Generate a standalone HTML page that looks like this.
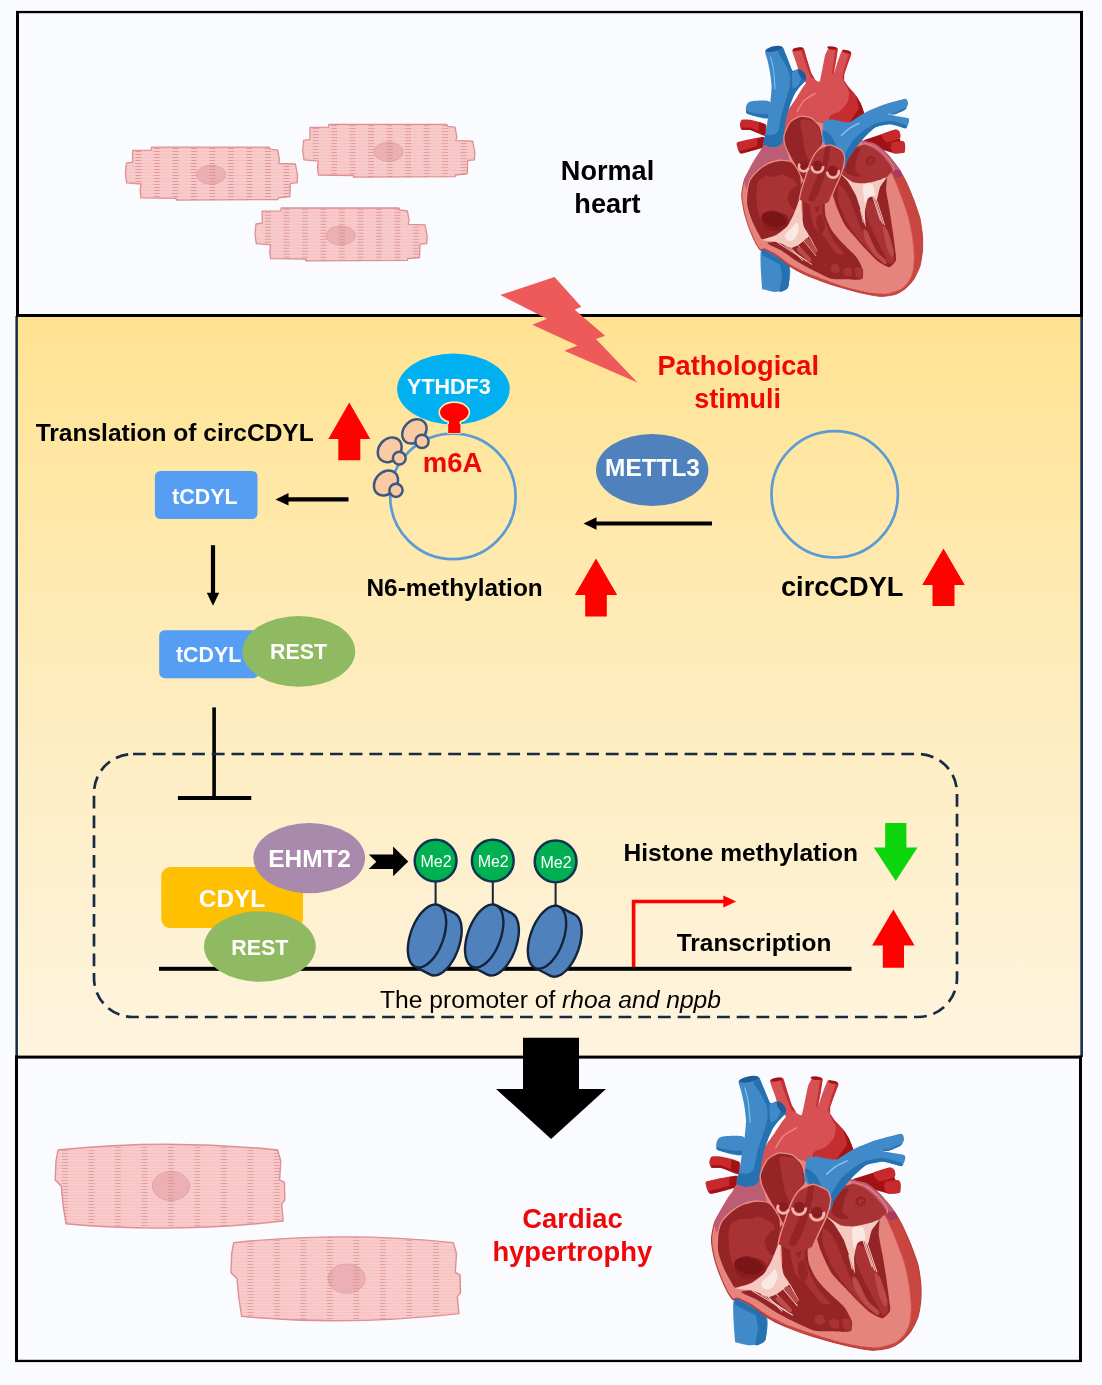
<!DOCTYPE html>
<html lang="en"><head><meta charset="utf-8"><title>circCDYL in cardiac hypertrophy</title>
<style>
html,body{margin:0;padding:0;background:#f9fbfe;}
body{width:1102px;height:1385px;overflow:hidden;font-family:"Liberation Sans",sans-serif;}
svg{display:block;will-change:transform;opacity:0.999}
text{font-family:"Liberation Sans",sans-serif;}
.b{font-weight:bold}
</style></head><body>
<svg width="1102" height="1385" viewBox="0 0 1102 1385">
<defs>
<linearGradient id="gy" x1="0" y1="0" x2="0" y2="1"><stop offset="0" stop-color="#ffe392"/><stop offset="0.5" stop-color="#feecbd"/><stop offset="1" stop-color="#fef4df"/></linearGradient>
<pattern id="stri" width="18.5" height="3" patternUnits="userSpaceOnUse"><rect x="0" y="1.2" width="18.5" height="0.6" fill="#e9a3a6" opacity="0.38"/><rect x="6" y="1.0" width="5.8" height="0.95" fill="#d5858a" opacity="0.72"/></pattern>
<pattern id="striB" width="26.5" height="3" patternUnits="userSpaceOnUse"><rect x="0" y="1.2" width="26.5" height="0.6" fill="#e9a3a6" opacity="0.38"/><rect x="9" y="1.0" width="5.8" height="0.95" fill="#d5858a" opacity="0.6"/></pattern>
</defs>
<rect width="1102" height="1385" fill="#f9fbfe"/>
<g id="panels">
<rect x="16" y="316" width="1066" height="741" fill="url(#gy)"/>
<rect x="15.4" y="316" width="2.5" height="741" fill="#172b45"/>
<rect x="1080.3" y="316" width="2.7" height="741" fill="#1d3452"/>
<rect x="16" y="10.9" width="1067" height="2.3" fill="#000"/>
<rect x="16" y="11" width="3" height="306" fill="#000"/>
<rect x="1080" y="11" width="3" height="306" fill="#000"/>
<rect x="16" y="314" width="1067" height="3" fill="#000"/>
<rect x="15" y="1055.6" width="1067" height="3" fill="#000"/>
<rect x="15" y="1055.6" width="3" height="306.4" fill="#000"/>
<rect x="1079" y="1055.6" width="3" height="306.4" fill="#000"/>
<rect x="15" y="1359.8" width="1067" height="2.3" fill="#000"/>
</g>
<g id="cells-normal">
<g>
<path d="M132.6 150.4 L151.1 150.1 L151.6 147.2 L269.4 147.2 L270.2 149.2 L277.8 150.1 L279.5 160.1 L278.6 163.5 L295.4 164 L297.6 175.3 L297.1 182.8 L290.4 183.3 L289.9 196.7 L278.1 197.9 L277.8 199.6 L176.2 200.1 L176.2 198.4 L141 197.9 L140.1 190.4 L141 184 L126.7 182.8 L125.4 173.6 L126.4 163.2 L132.6 162.2 Z" fill="#f8caca" stroke="#dc9093" stroke-width="1.3" stroke-linejoin="round"/>
<ellipse cx="211.2" cy="174.7" rx="14.6" ry="9.6" fill="#ebb0b3" stroke="#e0a0a5" stroke-width="0.9"/>
<path d="M132.6 150.4 L151.1 150.1 L151.6 147.2 L269.4 147.2 L270.2 149.2 L277.8 150.1 L279.5 160.1 L278.6 163.5 L295.4 164 L297.6 175.3 L297.1 182.8 L290.4 183.3 L289.9 196.7 L278.1 197.9 L277.8 199.6 L176.2 200.1 L176.2 198.4 L141 197.9 L140.1 190.4 L141 184 L126.7 182.8 L125.4 173.6 L126.4 163.2 L132.6 162.2 Z" fill="url(#stri)" transform="translate(0 0)"/>
</g>
<g>
<path d="M309.9 127.5 L328.4 127.2 L328.9 124.3 L446.7 124.3 L447.5 126.3 L455.1 127.2 L456.8 137.2 L455.9 140.6 L472.7 141.1 L474.9 152.4 L474.4 159.9 L467.7 160.4 L467.2 173.8 L455.4 175 L455.1 176.7 L353.5 177.2 L353.5 175.5 L318.3 175 L317.4 167.5 L318.3 161.1 L304 159.9 L302.7 150.7 L303.7 140.3 L309.9 139.3 Z" fill="#f8caca" stroke="#dc9093" stroke-width="1.3" stroke-linejoin="round"/>
<ellipse cx="388.5" cy="151.8" rx="14.6" ry="9.6" fill="#ebb0b3" stroke="#e0a0a5" stroke-width="0.9"/>
<path d="M132.6 150.4 L151.1 150.1 L151.6 147.2 L269.4 147.2 L270.2 149.2 L277.8 150.1 L279.5 160.1 L278.6 163.5 L295.4 164 L297.6 175.3 L297.1 182.8 L290.4 183.3 L289.9 196.7 L278.1 197.9 L277.8 199.6 L176.2 200.1 L176.2 198.4 L141 197.9 L140.1 190.4 L141 184 L126.7 182.8 L125.4 173.6 L126.4 163.2 L132.6 162.2 Z" fill="url(#stri)" transform="translate(177.3 -22.9)"/>
</g>
<g>
<path d="M262.2 211.2 L280.7 210.9 L281.2 208 L399 208 L399.8 210 L407.4 210.9 L409.1 220.9 L408.2 224.3 L425 224.8 L427.2 236.1 L426.7 243.6 L420 244.1 L419.5 257.5 L407.7 258.7 L407.4 260.4 L305.8 260.9 L305.8 259.2 L270.6 258.7 L269.7 251.2 L270.6 244.8 L256.3 243.6 L255 234.4 L256 224 L262.2 223 Z" fill="#f8caca" stroke="#dc9093" stroke-width="1.3" stroke-linejoin="round"/>
<ellipse cx="340.8" cy="235.5" rx="14.6" ry="9.6" fill="#ebb0b3" stroke="#e0a0a5" stroke-width="0.9"/>
<path d="M132.6 150.4 L151.1 150.1 L151.6 147.2 L269.4 147.2 L270.2 149.2 L277.8 150.1 L279.5 160.1 L278.6 163.5 L295.4 164 L297.6 175.3 L297.1 182.8 L290.4 183.3 L289.9 196.7 L278.1 197.9 L277.8 199.6 L176.2 200.1 L176.2 198.4 L141 197.9 L140.1 190.4 L141 184 L126.7 182.8 L125.4 173.6 L126.4 163.2 L132.6 162.2 Z" fill="url(#stri)" transform="translate(129.6 60.8)"/>
</g>
</g>
<g id="cells-hypertrophy">
<g>
<path d="M58 1150 Q167.8 1138.5 277.6 1150 L280.8 1161.1 L279.6 1179.9 L284.4 1182.3 L284.8 1199.9 L281.6 1204.3 L283.2 1221 Q171.8 1233.7 66 1223.8 L63.2 1205.9 L61.2 1185.9 L55.2 1179.9 L56 1161.1 Z" fill="#f8caca" stroke="#dc9093" stroke-width="1.4" stroke-linejoin="round"/>
<ellipse cx="171" cy="1186" rx="18.6" ry="14.6" fill="#ebb0b3" stroke="#e0a0a5" stroke-width="0.9"/>
<path d="M58 1150 Q167.8 1138.5 277.6 1150 L280.8 1161.1 L279.6 1179.9 L284.4 1182.3 L284.8 1199.9 L281.6 1204.3 L283.2 1221 Q171.8 1233.7 66 1223.8 L63.2 1205.9 L61.2 1185.9 L55.2 1179.9 L56 1161.1 Z" fill="url(#striB)"/>
</g>
<g>
<path d="M233.7 1242.6 Q343.5 1231.1 453.3 1242.6 L456.5 1253.7 L455.3 1272.5 L460.1 1274.9 L460.5 1292.5 L457.3 1296.9 L458.9 1313.6 Q347.5 1326.3 241.7 1316.4 L238.9 1298.5 L236.9 1278.5 L230.9 1272.5 L231.7 1253.7 Z" fill="#f8caca" stroke="#dc9093" stroke-width="1.4" stroke-linejoin="round"/>
<ellipse cx="346.7" cy="1278.6" rx="18.6" ry="14.6" fill="#ebb0b3" stroke="#e0a0a5" stroke-width="0.9"/>
<path d="M233.7 1242.6 Q343.5 1231.1 453.3 1242.6 L456.5 1253.7 L455.3 1272.5 L460.1 1274.9 L460.5 1292.5 L457.3 1296.9 L458.9 1313.6 Q347.5 1326.3 241.7 1316.4 L238.9 1298.5 L236.9 1278.5 L230.9 1272.5 L231.7 1253.7 Z" fill="url(#striB)"/>
</g>
</g>
<g transform="translate(0 0)">
<path d="M761.9 247.8 C758.8 250.4 761.7 281.4 761.9 286.2 C762.2 291.1 763 288.9 764.5 289.6 C765.9 290.2 772.2 291.8 774.6 291.9 C776.9 292 783 291.1 784.7 290.3 C786.3 289.5 788.3 288.3 788.7 285.2 C789.2 282.2 791.9 268.4 788.7 264 C785.6 259.6 765.1 245.2 761.9 247.8 Z" fill="#418ac9"/>
<path d="M779.6 259 C780.6 257.5 787.5 261.5 788.7 265 C789.9 268.5 789.3 281.9 788.7 285.2 C788.2 288.6 785.9 289.5 784.7 290.3 C783.5 291.1 780 293.2 779.6 291.3 C779.3 289.4 781.9 280.4 781.9 276.1 C781.9 271.8 778.7 260.4 779.6 259 Z" fill="#2671b0"/>
<path d="M761.9 248.8 L788.7 264 L788.7 269.1 L761.9 254.9 Z" fill="#2671b0"/>
<path d="M741.7 119.8 C742.8 119.2 747.9 119.3 750.3 119.8 C752.7 120.2 764.2 122.9 765.7 124.5 C767.2 126.1 766.7 135.3 765.2 135.8 C763.6 136.4 752.7 130.7 750.3 130.1 C748 129.5 742.8 130.2 741.7 129.7 C740.7 129.2 739.9 126 739.9 125 C739.9 124 740.7 120.3 741.7 119.8 Z" fill="#c8292d"/>
<path d="M758.9 122.2 L765.7 124.5 L765.2 135.8 L758.4 133.1 Z" fill="#a01216"/>
<path d="M741.7 127.5 L750.3 127.8 L758.4 131.1 L758.4 133.1 L750.3 130.1 L741.7 129.7 Z" fill="#a01216"/>
<path d="M738.2 142 C740.9 141.1 761.2 136.6 763.7 137.1 C766.2 137.7 765.4 145.6 763.2 147.3 C761 148.9 744.2 153.2 741.7 153.6 C739.3 154 739.2 152 738.7 151.3 C738.2 150.6 737.1 147.2 737.1 146.2 C737 145.3 735.5 142.9 738.2 142 Z" fill="#c8292d"/>
<path d="M757.4 138.3 L763.7 137.1 L763.2 147.3 L756.9 149.3 Z" fill="#a01216"/>
<path d="M739.2 151.3 L756.9 146.2 L756.9 149.3 L741.7 153.6 Z" fill="#a01216"/>
<path d="M770 102 C768.1 99.7 756.3 100.8 753.4 101 C750.4 101.1 748.8 102 747.8 103 C746.8 104 745.8 106.9 745.9 108.3 C745.9 109.8 745.1 112.8 748.1 114.1 C751.1 115.4 765.1 119.9 768 118.2 C770.9 116.6 772 104.3 770 102 Z" fill="#418ac9"/>
<path d="M746.5 110.9 C746.1 111.1 745.2 113.1 748.1 114.1 C751 115.1 765.3 118.2 768 118.2 C770.7 118.3 769.3 115 768.3 114.4 C767.3 113.9 762.7 114.4 760.4 114.1 C758.2 113.8 753.2 112.8 751.3 112.4 C749.5 112 746.9 110.6 746.5 110.9 Z" fill="#2671b0"/>
<path d="M863.4 140.2 L895.7 129.6 L900.8 141.2 L904.8 144.2 L904.3 152.8 L894.7 153.5 L880.5 149.3 Z" fill="#a01216"/>
<path d="M881.6 134.6 C882.5 133.4 893.9 129.8 895.7 129.6 C897.5 129.3 899.3 131 899.7 131.9 C900.2 132.7 901.3 137.1 899.9 138.2 C898.6 139.2 888.4 142.6 886.6 142.2 C884.8 141.8 880.6 135.9 881.6 134.6 Z" fill="#c8292d"/>
<path d="M891.7 142.7 C892.8 141.9 901.4 140.9 902.8 141 C904.1 141.1 904.8 142.9 905 144 C905.2 145.2 905.5 151.4 904.5 152.3 C903.5 153.3 896 153.8 894.7 153.5 C893.4 153.2 891.5 150.4 891.2 149.3 C890.9 148.2 890.5 143.5 891.7 142.7 Z" fill="#c8292d"/>
<path d="M779.6 143.2 C775.5 143.2 780.2 129.3 780.6 127 C781.1 124.8 783.9 117.5 784.7 115.9 C785.5 114.3 788.7 109.4 789.7 107.8 C790.8 106.2 795.9 98.6 797 96.9 C798.1 95.2 802.3 88.3 803.1 87.1 C803.8 85.9 806.1 83.6 805.9 82.8 C805.7 82 801.6 79 800.9 77.5 C800.1 76 797.5 66.6 796.8 64.4 C796.1 62.1 792.2 52.1 792.3 50.7 C792.4 49.3 796.9 47.9 797.8 47.7 C798.8 47.5 802.9 47.4 803.7 48.4 C804.5 49.4 806.3 57.3 806.9 59.3 C807.5 61.3 810.3 70.8 811 72.5 C811.6 74.1 814.3 78.8 815 79.5 C815.7 80.3 819 82.3 819.6 81.6 C820.2 80.8 821.6 72.6 822.1 70.4 C822.6 68.2 824.6 57.2 825.1 55.3 C825.7 53.4 828.2 48.4 829 47.7 C829.7 47 833.3 46.6 834 46.7 C834.8 46.8 837.5 47.6 837.7 48.7 C837.9 49.8 836.4 58.2 836.1 60.3 C835.7 62.5 833.5 74.2 833.5 74.5 C833.6 74.7 836.4 65.4 837.1 63.4 C837.8 61.3 841.3 51.3 842.1 50.2 C842.9 49.2 845.9 50.5 846.7 50.7 C847.5 51 851.4 52.2 851.4 53.5 C851.5 54.7 847.8 63.6 847.2 65.4 C846.6 67.1 844.4 73.2 844.2 74.5 C843.9 75.7 843.8 79.5 844.2 80.5 C844.5 81.6 847.3 85.4 848.2 86.6 C849.1 87.8 854.3 93.3 855.3 94.7 C856.3 96 859.7 101.4 860.3 102.8 C861 104.1 863 109.8 863.4 110.9 C863.7 112 864.7 114.8 864.1 115.9 C863.4 117 858.1 123.1 855.3 124 C852.4 124.9 836.3 125.4 830 127 C823.7 128.6 783.8 143.2 779.6 143.2 Z" fill="#d75054"/>
<path d="M830 115.9 C831 114.3 838.4 112.2 840.1 110.9 C841.8 109.6 846.3 104.6 847.2 102.8 C848.1 101 849.4 94.5 849.2 92.7 C849 90.9 845.7 85.8 845.2 84.6 C844.7 83.4 843.8 80.3 844.2 80.5 C844.5 80.7 847.1 85.2 848.2 86.6 C849.3 88 854.1 93.1 855.3 94.7 C856.5 96.3 859.5 101.2 860.3 102.8 C861.1 104.4 863 109.6 863.4 110.9 C863.7 112.2 864.9 114.6 864.1 115.9 C863.3 117.2 858.7 122.9 855.3 124 C851.9 125.1 832.5 127.8 830 127 C827.5 126.2 829 117.5 830 115.9 Z" fill="#c62d31"/>
<path d="M855.8 95.7 C855.9 95.2 859.6 101.3 860.3 102.8 C861.1 104.3 863 109.6 863.4 110.9 C863.7 112.2 865.4 114.8 864.1 115.9 C862.8 117.1 851.2 122.5 850.2 122.5 C849.2 122.5 852.9 117.4 853.8 115.9 C854.6 114.5 858.6 109.9 858.8 107.8 C859 105.8 855.6 96.2 855.8 95.7 Z" fill="#a21318"/>
<path d="M800.9 49.2 L803.7 48.4 L806.9 59.3 L811 72.5 L815 79.5 L811 77.5 L805.9 64.4 Z" fill="#c62d31"/>
<path d="M835.6 48.7 L837.7 48.7 L836.1 60.3 L833.5 74.5 L832 73.5 L834 60.3 Z" fill="#c62d31"/>
<path d="M849.2 52.7 L851.4 53.5 L847.2 65.4 L844.2 74.5 L844.2 80.5 L842.1 77.5 L845.2 65.4 Z" fill="#c62d31"/>
<ellipse cx="797.9" cy="49.2" rx="5.4" ry="1.7" fill="#a21318" transform="rotate(-10 797.9 49.2)"/>
<ellipse cx="832.2" cy="48" rx="5.0" ry="1.6" fill="#a21318" transform="rotate(8 832.2 48)"/>
<ellipse cx="846.8" cy="51.7" rx="4.4" ry="1.5" fill="#a21318" transform="rotate(14 846.8 51.7)"/>
<path d="M797.3 111.4 C798.4 109.6 800.9 103.8 803.9 100.8 C806.9 97.7 813.6 94.4 815.5 93.2" fill="none" stroke="#f08a88" stroke-width="1.2" stroke-linejoin="round" stroke-linecap="round"/>
<path d="M765.2 50.7 C764.6 52 767 58.2 767.5 60.3 C768 62.5 769.6 69.8 770 72.5 C770.4 75.1 771.5 83.8 771.6 86.6 C771.6 89.4 770.8 98 770.5 100.8 C770.2 103.5 769 110.9 768.5 113.9 C768.1 116.9 766.5 127.9 766 131.1 C765.5 134.2 763 143.6 763.5 145.2 C763.9 146.9 769 147.3 770.5 147.5 C772.1 147.6 777.4 147 778.6 146.4 C779.9 145.9 782.3 144.1 782.9 142.2 C783.5 140.3 784.3 129.7 784.7 127 C785.1 124.4 786.1 118.3 786.7 115.9 C787.3 113.5 789.9 105 790.8 102.8 C791.6 100.6 793.9 95.3 794.8 93.7 C795.7 92.1 798.7 88 799.9 86.6 C801 85.2 805.4 81 805.9 79.7 C806.4 78.4 805.5 74.5 804.7 73.5 C803.9 72.4 799.5 69.5 798.3 69.2 C797.1 69 793.6 71.4 792.8 70.9 C791.9 70.5 790.5 66 789.7 64.4 C789 62.7 786.5 56 785.7 54.3 C784.9 52.5 783.4 47.4 782.2 46.7 C781 46 775.5 46.8 773.8 47.2 C772.1 47.6 765.8 49.4 765.2 50.7 Z" fill="#418ac9"/>
<path d="M778.1 51.7 C777.9 50.1 781.6 46.7 782.4 47 C783.1 47.2 785 52.5 785.7 54.3 C786.4 56 789 62.7 789.7 64.4 C790.5 66 791.9 70.5 792.8 70.9 C793.6 71.4 797.1 69 798.3 69.2 C799.5 69.5 803.9 72.4 804.7 73.5 C805.5 74.5 806.4 78.4 805.9 79.7 C805.4 81 801 85.2 799.9 86.6 C798.7 88 795.7 92.1 794.8 93.7 C793.9 95.3 791.6 100.6 790.8 102.8 C789.9 105 787.3 113.5 786.7 115.9 C786.1 118.3 785.1 124.4 784.7 127 C784.3 129.7 783.5 140.3 782.9 142.2 C782.3 144.1 779.9 145.9 778.6 146.4 C777.4 147 772.1 147.6 770.5 147.5 C769 147.3 764 146.4 763.5 145.2 C762.9 144.1 764.4 136.6 765.3 135.6 C766.2 134.6 771.3 135.6 772.6 135.1 C773.8 134.7 777.2 133.2 778.1 131.1 C779 129 780.9 116.9 781.7 113.9 C782.4 110.9 784.9 103.5 785.7 100.8 C786.5 98 789.3 89.2 789.7 86.6 C790.2 84 790.3 76.8 789.7 74.5 C789.2 72.2 785.9 65.6 784.7 63.4 C783.5 61.1 778.4 53.4 778.1 51.7 Z" fill="#2671b0"/>
<path d="M792 73 C792.5 71.1 797.4 69.2 798.3 69.6 C799.3 70 801.5 75.5 801.5 77 C801.5 78.5 799.2 84 798.3 85.1 C797.5 86.2 793.6 89.3 793 88.1 C792.3 86.9 791.4 74.8 792 73 Z" fill="#418ac9"/>
<ellipse cx="773.8" cy="48.9" rx="8.4" ry="2.6" fill="#1f5c97" transform="rotate(-13 773.8 48.9)"/>
<ellipse cx="802.1" cy="74.5" rx="2.7" ry="6.0" fill="#1f5c97" transform="rotate(-33 802.1 74.5)"/>
<path d="M770.5 56.8 C771 59.1 772.8 65.1 773.6 70.4 C774.3 75.7 774.8 85.6 775.1 88.6" fill="none" stroke="#86c4ea" stroke-width="1.0" stroke-linejoin="round" stroke-linecap="round"/>
<path d="M784.7 148.3 C780 151.1 767.1 148.7 764.5 149.3 C761.8 149.9 759.5 153 758.4 154.3 C757.3 155.6 754.3 160.8 753.4 162.4 C752.4 164 750.2 168.2 749.3 170 C748.4 171.8 745 177.6 744.3 180.1 C743.5 182.6 741.7 192 741.7 195.3 C741.7 198.5 743.5 209.1 744.3 212.5 C745 215.8 748.2 225.6 749.3 228.6 C750.4 231.7 754.3 240.6 755.4 242.8 C756.5 244.9 759.4 249.4 760.2 250.1 C761 250.7 761.8 248.5 763.5 249 C765.1 249.6 773.9 254.1 776.6 255.9 C779.3 257.7 787.8 265.1 790.8 267 C793.7 269 802 273.4 805.9 275.1 C809.8 276.8 824.6 282.5 830 284.2 C835.4 286 855.3 291.6 860.3 292.8 C865.4 294 877 296.2 880.5 296.4 C884.1 296.5 893.2 295.1 895.7 294.3 C898.2 293.5 904 289.8 905.8 288.3 C907.6 286.7 912.5 281.4 913.9 279.2 C915.3 276.9 919.1 268.9 920 266 C920.8 263.2 922.2 253.9 922.5 250.9 C922.7 247.8 922.7 238.9 922.5 235.7 C922.2 232.5 920.8 222.1 920 218.5 C919.1 215 915.2 203.9 913.9 200.3 C912.6 196.8 908.2 186.2 906.8 183.1 C905.4 180.1 900.9 171.9 899.7 170 C898.6 168.1 897 166.1 895.7 164.4 C894.4 162.8 888.6 155.3 886.6 153.3 C884.6 151.3 877.8 145.4 875.5 144.2 C873.2 143 866.9 142.5 863.4 141.2 C859.8 139.9 845.3 133.1 840.1 131.1 C834.9 129.1 816.5 119.3 811 121 C805.4 122.7 789.3 145.4 784.7 148.3 Z" fill="#c9453f" stroke="#b83a36" stroke-width="0.9" stroke-linejoin="round" stroke-linecap="round"/>
<path d="M784.7 148.3 C780 151.1 767.1 148.7 764.5 149.3 C761.8 149.9 759.5 153 758.4 154.3 C757.3 155.6 754.2 160.8 753.4 162.4 C752.5 164 750.5 168.2 749.6 170 C748.8 171.8 745.5 177.6 744.8 180.1 C744 182.6 742.3 192 742.3 195.3 C742.3 198.5 744.1 209.1 744.9 212.5 C745.6 215.8 748.8 225.6 749.9 228.6 C751 231.6 754.9 240.5 756 242.6 C757 244.6 759.6 248.5 760.4 249 C761.3 249.6 762.9 247.8 764.5 248.3 C766.1 248.9 774 252.8 776.6 254.4 C779.2 256.1 787.8 263 790.8 264.8 C793.7 266.6 802 270.9 805.9 272.6 C809.8 274.3 825.6 280.1 830 281.7 C834.4 283.3 846.2 287.2 850.2 288.3 C854.3 289.4 866.8 292.3 870.4 292.8 C874.1 293.4 883.6 294.2 886.6 293.8 C889.6 293.5 898.5 290.5 900.8 289.3 C903 288 907.6 283 908.8 281.2 C910.1 279.4 912.4 273.6 912.9 271.1 C913.4 268.6 914.2 259.5 914.1 255.9 C914 252.4 912.7 239.7 912.1 235.7 C911.5 231.7 909 219.5 907.8 215.5 C906.7 211.4 902.1 198.8 900.8 195.3 C899.4 191.7 895.6 182.2 894.7 180.1 C893.8 178 892.5 175.1 891.7 174 C890.9 173 888.2 172.8 886.6 170 C885 167.2 877.8 149 875.5 146.2 C873.2 143.5 866.9 143.7 863.4 142.2 C859.8 140.7 845.3 133.2 840.1 131.1 C834.9 129 816.5 119.3 811 121 C805.4 122.7 789.3 145.4 784.7 148.3 Z" fill="#e5847c"/>
<path d="M894.7 180.1 C895.7 182.6 898.6 189.4 900.8 195.3 C902.9 201.2 905.9 208.7 907.8 215.5 C909.7 222.2 911 229 912.1 235.7 C913.1 242.4 914 250 914.1 255.9 C914.2 261.8 913.8 266.9 912.9 271.1 C912 275.3 910.9 278.2 908.8 281.2 C906.8 284.2 904.5 287.2 900.8 289.3 C897.1 291.4 889 293.1 886.6 293.8" fill="none" stroke="#d8635c" stroke-width="0.6" stroke-linejoin="round" stroke-linecap="round"/>
<path d="M763.5 145.2 C764.7 144.5 769 147.2 770.5 147.3 C772.1 147.4 777.4 146.8 778.6 146.2 C779.9 145.7 782.1 142.3 782.9 142 C783.6 141.7 785.5 142.3 785.9 143.2 C786.3 144.1 786.8 149.6 787.2 151.3 C787.6 153 789.1 158.9 789.7 160.4 C790.4 161.9 794.7 166.5 793.8 166.5 C792.9 166.4 783.2 160 780.6 159.6 C778.1 159.2 770.7 161.6 768.5 162.6 C766.3 163.6 760.2 167.9 758.4 169.5 C756.6 171.1 751.5 176.6 750.3 178.6 C749.1 180.6 747.1 189.1 746.5 189.2 C745.9 189.4 744 182 744.3 180.1 C744.5 178.2 748.4 171.8 749.3 170 C750.2 168.2 752.4 164 753.4 162.4 C754.3 160.8 757.4 156 758.4 154.3 C759.4 152.6 762.3 145.9 763.5 145.2 Z" fill="#bd5d74"/>
<path d="M863.4 141 C864.6 140.9 873.2 142.8 875.5 144 C877.8 145.2 884.6 151.1 886.6 153.1 C888.6 155.1 894.4 162.5 895.7 164.2 C897 165.9 899.1 168.8 899.7 170 C900.4 171.2 902.7 175.3 902.3 176.1 C901.8 176.8 896.2 178.2 895.2 177.6 C894.2 177 893 171.3 892.5 170 C891.9 168.7 890.6 165.9 889.6 164.4 C888.6 163 884.1 157.4 882.6 155.8 C881 154.3 876.4 150.2 874.5 149.1 C872.6 148 864.5 145.5 863.4 144.7 C862.2 143.9 862.1 141.1 863.4 141 Z" fill="#bd5d74"/>
<path d="M892.9 170.5 C893.3 169.7 898.6 169.4 899.5 170 C900.5 170.6 902.7 175.3 902.3 176.1 C901.8 176.8 896.1 178.1 895.2 177.6 C894.3 177 892.4 171.3 892.9 170.5 Z" fill="#a83a62"/>
<path d="M863.9 143 C865.7 143.6 871.5 144.8 875 146.7 C878.4 148.7 881.7 151.5 884.6 154.5 C887.5 157.6 890.9 162.2 892.5 164.9 C894 167.7 893.6 170 893.9 171" fill="none" stroke="#ea8a84" stroke-width="0.9" stroke-linejoin="round" stroke-linecap="round"/>
<path d="M791.3 161.9 C789.3 160.7 782.9 160.2 780.6 160.4 C778.4 160.5 770.7 162.5 768.5 163.4 C766.3 164.4 760.7 168.2 758.9 169.8 C757.1 171.4 751.7 177.1 750.5 179.1 C749.4 181.1 747.7 187.6 747.3 190.2 C746.9 192.8 746.4 202.3 746.8 205.4 C747.2 208.4 750.2 217.6 751.3 220.5 C752.5 223.5 757.3 232.8 758.4 234.7 C759.5 236.6 760.6 239.9 762.5 239.9 C764.3 240 774.2 236.5 776.6 235.2 C779 233.9 785 229.1 786.7 227.1 C788.4 225.1 792.5 217.9 793.8 215 C795.1 212 799.1 200.8 799.9 197.8 C800.6 194.8 801.4 187.7 801.4 185.2 C801.4 182.6 800.9 174.3 799.9 172 C798.8 169.7 793.2 163.1 791.3 161.9 Z" fill="#952426" stroke="#ea8a84" stroke-width="1.1" stroke-linejoin="round" stroke-linecap="round"/>
<path d="M758.4 181.1 C759.8 179.1 765.7 176.3 768.5 175.6 C771.3 174.8 779.6 173.9 782.7 174.5 C785.7 175.2 793 178.7 794.8 181.1 C796.6 183.5 798.6 191.5 798.3 195.3 C798.1 199 794.4 210 792.8 213.5 C791.2 216.9 787.1 222.5 784.7 224.6 C782.3 226.7 775 231.7 772.6 231.7 C770.1 231.7 765.2 227.2 763.5 224.6 C761.7 222 758.4 213.1 757.6 209.4 C756.8 205.8 756.3 196.6 756.4 193.2 C756.5 189.9 757 183.2 758.4 181.1 Z" fill="#a83234"/>
<path d="M762.5 214.5 C763.9 212.9 769.3 210.3 772.6 210.4 C775.8 210.6 784.6 213.6 786.7 215.5 C788.9 217.4 789.5 222.6 788.7 224.6 C787.9 226.6 783.5 229.8 780.6 230.6 C777.8 231.5 770 231.7 767.5 230.6 C765 229.6 762.6 224.7 761.9 222.6 C761.3 220.4 761 216.1 762.5 214.5 Z" fill="#8b1d20"/>
<ellipse cx="773.8" cy="219.3" rx="12.4" ry="7.4" fill="#7a1417" transform="rotate(14 773.8 219.3)"/>
<path d="M792.8 188.2 C794.4 186.8 798.9 184.9 799.9 186.2 C800.8 187.5 800.5 194.7 799.9 197.8 C799.2 200.9 796.7 208.5 795.3 209.4 C794 210.3 790.8 206.1 789.7 204.4 C788.7 202.6 787.3 198.4 787.7 196.3 C788.1 194.1 791.2 189.5 792.8 188.2 Z" fill="#952426"/>
<path d="M774.6 170 C776.9 169.3 784.4 170.2 784.7 171 C785 171.8 778.9 175.4 776.6 176.1 C774.3 176.7 767.8 176.9 767.5 176.1 C767.2 175.3 772.3 170.7 774.6 170 Z" fill="#952426"/>
<path d="M800.9 185.2 C800.2 188 801.9 197 802.1 200.3 C802.2 203.7 803.5 214.7 802.4 218.5 C801.2 222.4 794.2 236.3 790.8 238.7 C787.3 241.2 768.5 241.8 767.5 243 C766.5 244.1 777.7 248.2 780.6 250.1 C783.6 251.9 793.8 259.3 796.8 261.2 C799.9 263.1 807.7 267.5 811 269.3 C814.3 271 826.8 277.4 830 278.4 C833.2 279.4 840.6 279 843.1 279.2 C845.7 279.3 853.3 279.7 855.3 279.7 C857.2 279.6 861.6 279.7 862.3 278.7 C863.1 277.7 863.5 271.7 862.9 269.6 C862.2 267.4 858.4 259.6 856.3 256.9 C854.2 254.3 844.6 245.4 842.1 242.8 C839.7 240.2 833.6 233.2 832 230.6 C830.4 228.1 826.7 220.2 826 217.5 C825.2 214.8 824.4 206.3 824.9 203.4 C825.5 200.4 829.9 191.1 831 188.2 C832.1 185.3 835.4 176.3 836.1 174 C836.8 171.8 838.5 166.7 838.1 165.4 C837.7 164.2 834.1 161.6 832 161.4 C829.9 161.3 819.3 162.9 817 163.9 C814.7 165 810.6 169.9 809 172 C807.3 174.1 801.6 182.3 800.9 185.2 Z" fill="#952426"/>
<path d="M809 190.2 C809.8 187.5 815.4 184.6 817 185.2 C818.7 185.8 822.5 192.1 823.1 195.3 C823.7 198.5 821.6 208.8 822.1 212.5 C822.6 216.1 825.8 223.3 827.1 226.6 C828.5 229.9 832.1 237.6 834 240.8 C836 243.9 843.9 252.5 844.2 253.9 C844.4 255.3 838.4 254.9 836.1 252.9 C833.7 250.9 826.5 239.8 823.9 236.7 C821.4 233.6 815.6 229.9 814 226.6 C812.4 223.3 810.6 212.7 810 208.4 C809.4 204.2 808.1 192.9 809 190.2 Z" fill="#a83234"/>
<path d="M814 193.2 C814.8 191.5 818.6 189.3 819.6 190.2 C820.5 191.2 821.4 197.4 821.1 200.3 C820.7 203.3 818 212 817 212.5 C816 212.9 813.9 205.9 813.5 203.4 C813.1 200.8 813.2 195 814 193.2 Z" fill="#952426"/>
<path d="M816.5 217.5 C817.1 215.9 819.9 213.3 821.1 214.5 C822.2 215.7 825.1 223.9 825.1 226.6 C825.1 229.3 822.2 234.7 821.1 234.7 C820 234.7 817.6 228.9 817 226.6 C816.4 224.3 816 219.1 816.5 217.5 Z" fill="#952426"/>
<path d="M843.1 270.1 C843.5 269 846.5 267.6 847.7 267.5 C848.8 267.5 851.2 268.4 851.7 269.6 C852.3 270.7 852.6 275.3 851.7 276.1 C850.9 276.9 846.3 276.4 845.2 275.6 C844 274.8 842.8 271.1 843.1 270.1 Z" fill="#a83234"/>
<path d="M854.8 268.6 C855.3 267.3 859.3 267.2 860.3 267.5 C861.4 267.9 862.3 269.7 862.5 271.1 C862.8 272.4 863 276.8 862.1 277.7 C861.3 278.5 857.5 278.4 856.5 277.1 C855.5 275.9 854.3 269.8 854.8 268.6 Z" fill="#a83234"/>
<path d="M832 265 C832.8 264.1 836 263.3 837.1 264 C838.2 264.7 840.2 268.9 840.1 270.1 C840 271.3 837.3 273 836.1 273.1 C834.9 273.2 831.5 272.2 831 271.1 C830.5 270 831.2 266 832 265 Z" fill="#a83234"/>
<path d="M762.5 239.9 C762.5 239.3 774.2 236.5 776.6 235.2 C779 233.9 785 229.1 786.7 227.1 C788.4 225.1 792.5 217.9 793.8 215 C795.1 212 799.1 199.8 799.9 197.8 C800.6 195.8 801.5 194 801.7 195.3 C801.8 196.5 801.2 207.3 801.5 210.4 C801.7 213.6 803.1 224.1 803.9 226.6 C804.6 229.1 809 234.3 809 235.7 C809 237.1 805 239.8 803.9 240.8 C802.8 241.7 799.1 244.6 797.8 245.3 C796.5 246 792.1 248 790.8 248 C789.4 248 786.1 245.9 784.7 245.3 C783.3 244.7 778.8 242.5 776.6 242 C774.4 241.4 762.5 240.6 762.5 239.9 Z" fill="#f3c9c1"/>
<path d="M784.7 235.7 C785.2 233.8 791.2 228.4 792.8 226.6 C794.4 224.9 796 222.2 796.8 222.6 C797.6 223 799.1 227.5 798.8 229.6 C798.6 231.8 796.1 237.3 794.8 238.7 C793.5 240.2 790.1 241.2 788.7 240.8 C787.4 240.4 784.2 237.6 784.7 235.7 Z" fill="#fbe8e3"/>
<line x1="790.8" y1="248" x2="802.9" y2="261" stroke="#f3c9c1" stroke-width="0.9"/>
<line x1="797.8" y1="245.3" x2="809" y2="257.9" stroke="#f3c9c1" stroke-width="0.9"/>
<line x1="803.9" y1="240.8" x2="816" y2="255.9" stroke="#f3c9c1" stroke-width="0.9"/>
<line x1="809" y1="235.7" x2="817" y2="250.9" stroke="#f3c9c1" stroke-width="0.9"/>
<line x1="776.6" y1="242" x2="812" y2="264.5" stroke="#f3c9c1" stroke-width="0.9"/>
<line x1="784.7" y1="245.3" x2="806.9" y2="261" stroke="#f3c9c1" stroke-width="0.9"/>
<path d="M796.8 249.9 C796 248.4 799.5 246.9 800.9 247.8 C802.3 248.7 810.2 257.5 811 259 C811.8 260.4 810.4 262.9 809 262 C807.5 261.1 797.6 251.3 796.8 249.9 Z" fill="#bb4a48"/>
<path d="M804.9 239.7 C804.4 238.3 807.7 237.6 809 238.7 C810.2 239.8 816.5 249.5 817 250.9 C817.5 252.3 815.2 254 814 252.9 C812.8 251.8 805.4 241.2 804.9 239.7 Z" fill="#bb4a48"/>
<path d="M845.2 161.4 C846.5 159.7 848.4 151.4 850.2 149.8 C852 148.1 860.9 144.8 863.4 144.7 C865.8 144.6 872.6 147.7 874.5 148.8 C876.4 149.9 881 154.3 882.6 155.8 C884.1 157.4 888.6 163.2 889.6 164.6 C890.6 166.1 892.8 168.7 892.5 170 C892.2 171.3 888 176.2 886.6 177.3 C885.2 178.3 880.6 179.7 878.5 180.3 C876.4 180.9 867.9 183.1 865.4 183.3 C862.9 183.5 855.8 183.3 853.2 182.3 C850.7 181.3 841.7 174.8 840.1 173.2 C838.5 171.7 836.6 168.2 837.1 167 C837.6 165.8 843.8 163.1 845.2 161.4 Z" fill="#a83234"/>
<circle cx="870.6" cy="160.6" r="4.6" fill="#952426"/>
<circle cx="871.2" cy="161" r="2.6" fill="#a83234"/>
<circle cx="872.2" cy="161.8" r="1.3" fill="#952426"/>
<path d="M851.7 151.3 C853.8 148.5 859.7 147.7 860.3 148.8 C860.9 149.8 857 156.6 856.3 159.4 C855.6 162.2 854.7 167.8 855.3 170 C855.8 172.2 860.6 175.3 860.3 176.1 C860.1 176.9 855.3 176.9 853.2 176.1 C851.2 175.3 845.4 173.3 845.2 170 C845 166.7 849.7 154.1 851.7 151.3 Z" fill="#952426"/>
<path d="M840.1 173.2 C842.1 173.7 850.7 181.3 853.2 182.3 C855.8 183.3 862.9 183.5 865.4 183.3 C867.9 183.1 876.4 180.9 878.5 180.3 C880.6 179.7 885.8 176.3 886.6 177.3 C887.4 178.3 885.8 186.9 886.1 190.2 C886.4 193.5 889 206.4 889.6 210.4 C890.3 214.5 892.1 226.3 892.7 230.6 C893.3 235 895.4 250.9 895.7 253.9 C896 256.9 896.4 259.6 895.7 261 C895 262.3 891 267.2 889.1 267.2 C887.3 267.2 879.9 262.8 877.5 261 C875.1 259.1 867.4 251 865.4 248.8 C863.4 246.7 859.3 242.1 857.3 239.7 C855.3 237.4 847.3 229 845.2 225.6 C843 222.2 837.4 208.9 836.1 205.4 C834.8 201.8 832.3 192.9 832 190.2 C831.7 187.5 832.2 179.8 833 178.1 C833.8 176.4 838.1 172.8 840.1 173.2 Z" fill="#952426"/>
<path d="M838.1 185.2 C838.9 184 843.5 187.9 845.2 190.2 C846.8 192.6 850.5 201.1 852.2 205.4 C854 209.6 858.2 222 860.3 226.6 C862.4 231.2 867.8 241 870.4 244.8 C873 248.6 881.7 257.3 882.6 259 C883.4 260.6 879.4 260.2 877.5 259 C875.6 257.7 869 250.7 866.4 247.8 C863.8 245 857.7 238.1 855.3 234.7 C852.8 231.3 847.2 222.5 845.2 218.5 C843.2 214.5 838.9 204.2 838.1 200.3 C837.3 196.4 837.3 186.3 838.1 185.2 Z" fill="#a83234"/>
<path d="M867.4 200.3 C868.3 199 872.7 201.2 874.5 203.4 C876.2 205.5 880.8 214.2 882.6 218.5 C884.3 222.9 888.2 236 889.6 240.8 C891.1 245.5 894.7 256.2 894.7 259 C894.7 261.7 891.1 264.9 889.6 264 C888.2 263.1 884.4 254.5 882.6 250.9 C880.7 247.2 875.4 236.9 873.5 232.7 C871.6 228.4 867.1 218.2 866.4 214.5 C865.7 210.7 866.5 201.6 867.4 200.3 Z" fill="#a83234"/>
<path d="M863.4 229.6 C863.6 228.6 865.9 229.2 867.4 231.7 C868.9 234.1 874.3 247.4 876.5 250.9 C878.7 254.3 885.7 259.4 886.6 261 C887.5 262.5 886.1 264.8 884.6 264 C883.1 263.2 875.7 256.6 873.5 253.9 C871.2 251.2 866.6 243.6 865.4 240.8 C864.2 237.9 863.1 230.7 863.4 229.6 Z" fill="#bb4a48"/>
<path d="M882.6 226.6 C882.7 224.7 886.3 227.8 887.6 230.6 C888.9 233.5 893.2 247.8 893.7 250.9 C894.2 253.9 892.5 257.4 891.7 256.9 C890.8 256.5 887.7 250.4 886.6 246.8 C885.5 243.3 882.4 228.5 882.6 226.6 Z" fill="#bb4a48"/>
<path d="M840.1 173.2 C840.6 173.3 851.1 181.5 853.2 182.3 C855.4 183.2 863.3 183.5 865.4 183.3 C867.5 183.2 876.8 180.8 878.5 180.3 C880.3 179.8 886.5 176.7 886.6 177.3 C886.7 177.9 880.9 185.3 880 187.2 C879.2 189.1 877.3 199.6 876.7 200.3 C876.1 201.1 873.2 196.4 872.5 196.3 C871.7 196.2 868.2 198 867.6 199.3 C867 200.7 865 210.2 864.9 212.5 C864.7 214.7 865.9 226.8 865.6 226.6 C865.2 226.4 861.6 213 860.8 210.4 C860 207.8 856.9 197.7 855.8 195.3 C854.7 192.8 849 183.2 847.7 181.3 C846.4 179.5 839.6 173.2 840.1 173.2 Z" fill="#f3c9c1"/>
<path d="M863.4 185.2 C864.4 182.6 871 182.8 872.5 184.2 C873.9 185.5 875 193.5 874.5 195.3 C873.9 197 869.7 196.2 868.4 197.3 C867.1 198.4 865.5 205 864.9 203.4 C864.2 201.7 862.3 187.7 863.4 185.2 Z" fill="#fbe8e3"/>
<line x1="876.7" y1="200.3" x2="884.6" y2="225.1" stroke="#f3c9c1" stroke-width="0.9"/>
<line x1="874.5" y1="198.3" x2="882.6" y2="223.6" stroke="#f3c9c1" stroke-width="0.9"/>
<line x1="872.5" y1="196.3" x2="880.5" y2="220.5" stroke="#f3c9c1" stroke-width="0.9"/>
<line x1="860.3" y1="209.4" x2="863.4" y2="222.6" stroke="#f3c9c1" stroke-width="0.9"/>
<path d="M805.3 185.3 C804.6 185.1 800.7 175.3 799.3 172.7 C797.8 170 792.6 161.2 791.2 158.5 C789.8 155.8 785.8 147.7 785.1 145.4 C784.4 143.1 783.6 137.6 784.1 135.3 C784.6 132.9 788.5 124 790.2 122.1 C791.8 120.2 798.1 116.7 800.3 116.3 C802.4 115.9 809.5 117.1 811.4 118.1 C813.3 119.1 818.4 124.4 819.5 126.2 C820.6 128 822 134.5 822.3 136.3 C822.6 138.1 823 143 822.5 144.4 C822 145.8 818.7 148.6 817.5 150.4 C816.2 152.3 811.5 160.1 810.4 162.6 C809.3 165 806.8 172.4 806.3 174.7 C805.8 177 806 185.5 805.3 185.3 Z" fill="#952426" stroke="#ea8a84" stroke-width="1.2" stroke-linejoin="round" stroke-linecap="round"/>
<path d="M800.8 120.1 C802.1 118.5 811.2 120.1 813.4 121.3 C815.6 122.5 818.6 127.6 819.5 130.2 C820.4 132.8 821.5 140.8 821 143.4 C820.5 146 816.7 150.3 815.4 152.5 C814.2 154.6 811.6 161.6 810.4 161.6 C809.2 161.6 806.3 155.5 805.3 152.5 C804.4 149.4 802.8 139 802.3 135.3 C801.8 131.5 799.5 121.7 800.8 120.1 Z" fill="#a83234"/>
<path d="M823.9 121.5 C824.7 120.6 830.5 119.5 832 119.5 C833.5 119.5 840.6 121.3 842.1 121.5 C843.6 121.7 848.4 122.7 850.2 122 C852.1 121.3 861.7 114.3 864.4 112.9 C867.1 111.5 879.2 106.2 882.6 105 C886 103.8 903.2 98.9 905.3 98.7 C907.4 98.6 907.9 102.3 908 103 C908.1 103.7 907.8 106.2 906.6 107 C905.4 107.9 895.3 112.5 893.7 113.1 C892.1 113.7 887 113.9 887.1 114.1 C887.2 114.3 892.9 115.4 894.7 115.7 C896.4 116.1 906.8 117.7 908 118.1 C909.2 118.6 909.2 120.6 909 121.5 C908.9 122.3 907.3 128 905.8 128.3 C904.3 128.5 893.2 124.3 890.6 124.2 C888.1 124.1 877.7 126.1 875.5 127.2 C873.3 128.3 866.1 135.6 864.4 137.3 C862.7 139.1 856.7 146.5 855.3 148.5 C853.8 150.4 848 158.9 847.2 160.4 C846.3 161.9 846.1 165.8 845.2 167 C844.2 168.1 837.5 175.5 836.1 174 C834.6 172.6 829.2 152.1 828 149.3 C826.8 146.5 822.3 141.8 821.9 140.2 C821.5 138.5 822.8 131.1 822.9 129.6 C823.1 128 823.2 122.3 823.9 121.5 Z" fill="#418ac9"/>
<path d="M905.8 128.3 C904.3 128.2 893.7 124.3 890.6 124.2 C887.6 124.1 878.1 125.9 875.5 127.2 C872.9 128.6 866.4 135.2 864.4 137.3 C862.3 139.5 857 146.2 855.3 148.5 C853.6 150.8 848.2 158.5 847.2 160.4 C846.2 162.2 845.5 167.4 845.2 167 C844.9 166.6 843.3 159 844.2 156.4 C845 153.7 851.2 142.8 853.2 140.2 C855.3 137.6 862.1 131.7 864.4 130.1 C866.6 128.4 872.9 124.4 875.5 123.5 C878.1 122.6 887.7 120.8 890.6 121 C893.6 121.1 903.8 124.3 905.3 125 C906.8 125.7 907.3 128.3 905.8 128.3 Z" fill="#2671b0"/>
<path d="M886.6 114.1 C886.6 113.9 892.7 113.1 894.7 112.4 C896.7 111.7 905.6 107.3 906.6 107 C907.6 106.8 906 109.1 904.8 109.9 C903.6 110.6 896.5 114 894.7 114.4 C892.9 114.8 886.6 114.3 886.6 114.1 Z" fill="#2671b0"/>
<path d="M822.4 131.1 C822.5 132.8 826.6 147.8 828 149.3 C829.3 150.8 835.7 147.5 836.1 146.2 C836.5 145 832.9 138.6 832 137.1 C831.1 135.7 827.9 132.7 827 132.1 C826 131.5 822.3 129.4 822.4 131.1 Z" fill="#2671b0"/>
<path d="M841.3 135.6 C842.6 134.5 846.3 130.6 849.2 128.6 C852.1 126.5 857.2 124.3 858.8 123.5" fill="none" stroke="#86c4ea" stroke-width="1.4" stroke-linejoin="round" stroke-linecap="round"/>
<path d="M799.3 199 C797.9 197.2 801 191.7 801.5 189.9 C802 188 803.4 183.5 804.3 180.8 C805.2 178 809.1 165.6 810.4 162.6 C811.7 159.5 815.5 152.2 817.5 150.4 C819.4 148.7 827.2 144.9 829.6 144.9 C832 144.9 840.2 149.1 841.7 150.4 C843.2 151.8 844.7 156.3 844.7 158.5 C844.7 160.7 842.6 169.8 841.7 172.7 C840.8 175.5 836.9 184 835.6 186.8 C834.4 189.7 831.6 199 829.6 201 C827.6 203 818.5 207.2 815.4 207 C812.4 206.8 800.7 200.7 799.3 199 Z" fill="#a83234"/>
<path d="M825.5 146.4 C826.3 144.7 829.7 144.3 830.1 145.4 C830.4 146.5 829.5 154.8 829.1 157.5 C828.6 160.2 826.5 169.3 825.5 172.7 C824.6 176 820.7 188 819.5 190.9 C818.3 193.7 814.5 200.2 813.4 201 C812.3 201.8 808.2 201 808.4 199 C808.6 196.9 814 184.4 815.4 180.8 C816.8 177.1 821.5 166 822.5 162.6 C823.5 159.1 824.8 148.1 825.5 146.4 Z" fill="#952426"/>
<path d="M799.3 199 C799.5 198 801 191.7 801.5 189.9 C802 188 803.4 183.5 804.3 180.8 C805.2 178 809.1 165.6 810.4 162.6 C811.7 159.5 815.5 152.2 817.5 150.4 C819.4 148.7 827.2 144.9 829.6 144.9 C832 144.9 840.2 149.1 841.7 150.4 C843.2 151.8 844.7 156.3 844.7 158.5 C844.7 160.7 842.6 169.8 841.7 172.7 C840.8 175.5 836.9 184 835.6 186.8 C834.4 189.7 830.2 199.6 829.6 201" fill="none" stroke="#ea8a84" stroke-width="1.3" stroke-linejoin="round" stroke-linecap="round"/>
<circle cx="804" cy="165.2" r="4.1" fill="#8b1d20"/>
<path d="M799.2 165.8 a4.9 4.9 0 1 0 9.7 0" fill="none" stroke="#f2b2ac" stroke-width="2.6" transform="rotate(25 804 165.8)"/>
<circle cx="817.5" cy="165.5" r="4.8" fill="#8b1d20"/>
<path d="M811.8 166.1 a5.7 5.7 0 1 0 11.3 0" fill="none" stroke="#f2b2ac" stroke-width="2.6" transform="rotate(0 817.5 166.1)"/>
<circle cx="832.8" cy="170.4" r="5" fill="#8b1d20"/>
<path d="M827 171 a5.9 5.9 0 1 0 11.7 0" fill="none" stroke="#f2b2ac" stroke-width="2.6" transform="rotate(-8 832.8 171)"/>
</g>
<g transform="translate(706 1076) scale(1.158 1.095) translate(-737 -46)">
<path d="M761.9 247.8 C758.8 250.4 761.7 281.4 761.9 286.2 C762.2 291.1 763 288.9 764.5 289.6 C765.9 290.2 772.2 291.8 774.6 291.9 C776.9 292 783 291.1 784.7 290.3 C786.3 289.5 788.3 288.3 788.7 285.2 C789.2 282.2 791.9 268.4 788.7 264 C785.6 259.6 765.1 245.2 761.9 247.8 Z" fill="#418ac9"/>
<path d="M779.6 259 C780.6 257.5 787.5 261.5 788.7 265 C789.9 268.5 789.3 281.9 788.7 285.2 C788.2 288.6 785.9 289.5 784.7 290.3 C783.5 291.1 780 293.2 779.6 291.3 C779.3 289.4 781.9 280.4 781.9 276.1 C781.9 271.8 778.7 260.4 779.6 259 Z" fill="#2671b0"/>
<path d="M761.9 248.8 L788.7 264 L788.7 269.1 L761.9 254.9 Z" fill="#2671b0"/>
<path d="M741.7 119.8 C742.8 119.2 747.9 119.3 750.3 119.8 C752.7 120.2 764.2 122.9 765.7 124.5 C767.2 126.1 766.7 135.3 765.2 135.8 C763.6 136.4 752.7 130.7 750.3 130.1 C748 129.5 742.8 130.2 741.7 129.7 C740.7 129.2 739.9 126 739.9 125 C739.9 124 740.7 120.3 741.7 119.8 Z" fill="#c8292d"/>
<path d="M758.9 122.2 L765.7 124.5 L765.2 135.8 L758.4 133.1 Z" fill="#a01216"/>
<path d="M741.7 127.5 L750.3 127.8 L758.4 131.1 L758.4 133.1 L750.3 130.1 L741.7 129.7 Z" fill="#a01216"/>
<path d="M738.2 142 C740.9 141.1 761.2 136.6 763.7 137.1 C766.2 137.7 765.4 145.6 763.2 147.3 C761 148.9 744.2 153.2 741.7 153.6 C739.3 154 739.2 152 738.7 151.3 C738.2 150.6 737.1 147.2 737.1 146.2 C737 145.3 735.5 142.9 738.2 142 Z" fill="#c8292d"/>
<path d="M757.4 138.3 L763.7 137.1 L763.2 147.3 L756.9 149.3 Z" fill="#a01216"/>
<path d="M739.2 151.3 L756.9 146.2 L756.9 149.3 L741.7 153.6 Z" fill="#a01216"/>
<path d="M770 102 C768.1 99.7 756.3 100.8 753.4 101 C750.4 101.1 748.8 102 747.8 103 C746.8 104 745.8 106.9 745.9 108.3 C745.9 109.8 745.1 112.8 748.1 114.1 C751.1 115.4 765.1 119.9 768 118.2 C770.9 116.6 772 104.3 770 102 Z" fill="#418ac9"/>
<path d="M746.5 110.9 C746.1 111.1 745.2 113.1 748.1 114.1 C751 115.1 765.3 118.2 768 118.2 C770.7 118.3 769.3 115 768.3 114.4 C767.3 113.9 762.7 114.4 760.4 114.1 C758.2 113.8 753.2 112.8 751.3 112.4 C749.5 112 746.9 110.6 746.5 110.9 Z" fill="#2671b0"/>
<path d="M863.4 140.2 L895.7 129.6 L900.8 141.2 L904.8 144.2 L904.3 152.8 L894.7 153.5 L880.5 149.3 Z" fill="#a01216"/>
<path d="M881.6 134.6 C882.5 133.4 893.9 129.8 895.7 129.6 C897.5 129.3 899.3 131 899.7 131.9 C900.2 132.7 901.3 137.1 899.9 138.2 C898.6 139.2 888.4 142.6 886.6 142.2 C884.8 141.8 880.6 135.9 881.6 134.6 Z" fill="#c8292d"/>
<path d="M891.7 142.7 C892.8 141.9 901.4 140.9 902.8 141 C904.1 141.1 904.8 142.9 905 144 C905.2 145.2 905.5 151.4 904.5 152.3 C903.5 153.3 896 153.8 894.7 153.5 C893.4 153.2 891.5 150.4 891.2 149.3 C890.9 148.2 890.5 143.5 891.7 142.7 Z" fill="#c8292d"/>
<path d="M779.6 143.2 C775.5 143.2 780.2 129.3 780.6 127 C781.1 124.8 783.9 117.5 784.7 115.9 C785.5 114.3 788.7 109.4 789.7 107.8 C790.8 106.2 795.9 98.6 797 96.9 C798.1 95.2 802.3 88.3 803.1 87.1 C803.8 85.9 806.1 83.6 805.9 82.8 C805.7 82 801.6 79 800.9 77.5 C800.1 76 797.5 66.6 796.8 64.4 C796.1 62.1 792.2 52.1 792.3 50.7 C792.4 49.3 796.9 47.9 797.8 47.7 C798.8 47.5 802.9 47.4 803.7 48.4 C804.5 49.4 806.3 57.3 806.9 59.3 C807.5 61.3 810.3 70.8 811 72.5 C811.6 74.1 814.3 78.8 815 79.5 C815.7 80.3 819 82.3 819.6 81.6 C820.2 80.8 821.6 72.6 822.1 70.4 C822.6 68.2 824.6 57.2 825.1 55.3 C825.7 53.4 828.2 48.4 829 47.7 C829.7 47 833.3 46.6 834 46.7 C834.8 46.8 837.5 47.6 837.7 48.7 C837.9 49.8 836.4 58.2 836.1 60.3 C835.7 62.5 833.5 74.2 833.5 74.5 C833.6 74.7 836.4 65.4 837.1 63.4 C837.8 61.3 841.3 51.3 842.1 50.2 C842.9 49.2 845.9 50.5 846.7 50.7 C847.5 51 851.4 52.2 851.4 53.5 C851.5 54.7 847.8 63.6 847.2 65.4 C846.6 67.1 844.4 73.2 844.2 74.5 C843.9 75.7 843.8 79.5 844.2 80.5 C844.5 81.6 847.3 85.4 848.2 86.6 C849.1 87.8 854.3 93.3 855.3 94.7 C856.3 96 859.7 101.4 860.3 102.8 C861 104.1 863 109.8 863.4 110.9 C863.7 112 864.7 114.8 864.1 115.9 C863.4 117 858.1 123.1 855.3 124 C852.4 124.9 836.3 125.4 830 127 C823.7 128.6 783.8 143.2 779.6 143.2 Z" fill="#d75054"/>
<path d="M830 115.9 C831 114.3 838.4 112.2 840.1 110.9 C841.8 109.6 846.3 104.6 847.2 102.8 C848.1 101 849.4 94.5 849.2 92.7 C849 90.9 845.7 85.8 845.2 84.6 C844.7 83.4 843.8 80.3 844.2 80.5 C844.5 80.7 847.1 85.2 848.2 86.6 C849.3 88 854.1 93.1 855.3 94.7 C856.5 96.3 859.5 101.2 860.3 102.8 C861.1 104.4 863 109.6 863.4 110.9 C863.7 112.2 864.9 114.6 864.1 115.9 C863.3 117.2 858.7 122.9 855.3 124 C851.9 125.1 832.5 127.8 830 127 C827.5 126.2 829 117.5 830 115.9 Z" fill="#c62d31"/>
<path d="M855.8 95.7 C855.9 95.2 859.6 101.3 860.3 102.8 C861.1 104.3 863 109.6 863.4 110.9 C863.7 112.2 865.4 114.8 864.1 115.9 C862.8 117.1 851.2 122.5 850.2 122.5 C849.2 122.5 852.9 117.4 853.8 115.9 C854.6 114.5 858.6 109.9 858.8 107.8 C859 105.8 855.6 96.2 855.8 95.7 Z" fill="#a21318"/>
<path d="M800.9 49.2 L803.7 48.4 L806.9 59.3 L811 72.5 L815 79.5 L811 77.5 L805.9 64.4 Z" fill="#c62d31"/>
<path d="M835.6 48.7 L837.7 48.7 L836.1 60.3 L833.5 74.5 L832 73.5 L834 60.3 Z" fill="#c62d31"/>
<path d="M849.2 52.7 L851.4 53.5 L847.2 65.4 L844.2 74.5 L844.2 80.5 L842.1 77.5 L845.2 65.4 Z" fill="#c62d31"/>
<ellipse cx="797.9" cy="49.2" rx="5.4" ry="1.7" fill="#a21318" transform="rotate(-10 797.9 49.2)"/>
<ellipse cx="832.2" cy="48" rx="5.0" ry="1.6" fill="#a21318" transform="rotate(8 832.2 48)"/>
<ellipse cx="846.8" cy="51.7" rx="4.4" ry="1.5" fill="#a21318" transform="rotate(14 846.8 51.7)"/>
<path d="M797.3 111.4 C798.4 109.6 800.9 103.8 803.9 100.8 C806.9 97.7 813.6 94.4 815.5 93.2" fill="none" stroke="#f08a88" stroke-width="1.2" stroke-linejoin="round" stroke-linecap="round"/>
<path d="M765.2 50.7 C764.6 52 767 58.2 767.5 60.3 C768 62.5 769.6 69.8 770 72.5 C770.4 75.1 771.5 83.8 771.6 86.6 C771.6 89.4 770.8 98 770.5 100.8 C770.2 103.5 769 110.9 768.5 113.9 C768.1 116.9 766.5 127.9 766 131.1 C765.5 134.2 763 143.6 763.5 145.2 C763.9 146.9 769 147.3 770.5 147.5 C772.1 147.6 777.4 147 778.6 146.4 C779.9 145.9 782.3 144.1 782.9 142.2 C783.5 140.3 784.3 129.7 784.7 127 C785.1 124.4 786.1 118.3 786.7 115.9 C787.3 113.5 789.9 105 790.8 102.8 C791.6 100.6 793.9 95.3 794.8 93.7 C795.7 92.1 798.7 88 799.9 86.6 C801 85.2 805.4 81 805.9 79.7 C806.4 78.4 805.5 74.5 804.7 73.5 C803.9 72.4 799.5 69.5 798.3 69.2 C797.1 69 793.6 71.4 792.8 70.9 C791.9 70.5 790.5 66 789.7 64.4 C789 62.7 786.5 56 785.7 54.3 C784.9 52.5 783.4 47.4 782.2 46.7 C781 46 775.5 46.8 773.8 47.2 C772.1 47.6 765.8 49.4 765.2 50.7 Z" fill="#418ac9"/>
<path d="M778.1 51.7 C777.9 50.1 781.6 46.7 782.4 47 C783.1 47.2 785 52.5 785.7 54.3 C786.4 56 789 62.7 789.7 64.4 C790.5 66 791.9 70.5 792.8 70.9 C793.6 71.4 797.1 69 798.3 69.2 C799.5 69.5 803.9 72.4 804.7 73.5 C805.5 74.5 806.4 78.4 805.9 79.7 C805.4 81 801 85.2 799.9 86.6 C798.7 88 795.7 92.1 794.8 93.7 C793.9 95.3 791.6 100.6 790.8 102.8 C789.9 105 787.3 113.5 786.7 115.9 C786.1 118.3 785.1 124.4 784.7 127 C784.3 129.7 783.5 140.3 782.9 142.2 C782.3 144.1 779.9 145.9 778.6 146.4 C777.4 147 772.1 147.6 770.5 147.5 C769 147.3 764 146.4 763.5 145.2 C762.9 144.1 764.4 136.6 765.3 135.6 C766.2 134.6 771.3 135.6 772.6 135.1 C773.8 134.7 777.2 133.2 778.1 131.1 C779 129 780.9 116.9 781.7 113.9 C782.4 110.9 784.9 103.5 785.7 100.8 C786.5 98 789.3 89.2 789.7 86.6 C790.2 84 790.3 76.8 789.7 74.5 C789.2 72.2 785.9 65.6 784.7 63.4 C783.5 61.1 778.4 53.4 778.1 51.7 Z" fill="#2671b0"/>
<path d="M792 73 C792.5 71.1 797.4 69.2 798.3 69.6 C799.3 70 801.5 75.5 801.5 77 C801.5 78.5 799.2 84 798.3 85.1 C797.5 86.2 793.6 89.3 793 88.1 C792.3 86.9 791.4 74.8 792 73 Z" fill="#418ac9"/>
<ellipse cx="773.8" cy="48.9" rx="8.4" ry="2.6" fill="#1f5c97" transform="rotate(-13 773.8 48.9)"/>
<ellipse cx="802.1" cy="74.5" rx="2.7" ry="6.0" fill="#1f5c97" transform="rotate(-33 802.1 74.5)"/>
<path d="M770.5 56.8 C771 59.1 772.8 65.1 773.6 70.4 C774.3 75.7 774.8 85.6 775.1 88.6" fill="none" stroke="#86c4ea" stroke-width="1.0" stroke-linejoin="round" stroke-linecap="round"/>
<path d="M784.7 148.3 C780 151.1 767.1 148.7 764.5 149.3 C761.8 149.9 759.5 153 758.4 154.3 C757.3 155.6 754.3 160.8 753.4 162.4 C752.4 164 750.2 168.2 749.3 170 C748.4 171.8 745 177.6 744.3 180.1 C743.5 182.6 741.7 192 741.7 195.3 C741.7 198.5 743.5 209.1 744.3 212.5 C745 215.8 748.2 225.6 749.3 228.6 C750.4 231.7 754.3 240.6 755.4 242.8 C756.5 244.9 759.4 249.4 760.2 250.1 C761 250.7 761.8 248.5 763.5 249 C765.1 249.6 773.9 254.1 776.6 255.9 C779.3 257.7 787.8 265.1 790.8 267 C793.7 269 802 273.4 805.9 275.1 C809.8 276.8 824.6 282.5 830 284.2 C835.4 286 855.3 291.6 860.3 292.8 C865.4 294 877 296.2 880.5 296.4 C884.1 296.5 893.2 295.1 895.7 294.3 C898.2 293.5 904 289.8 905.8 288.3 C907.6 286.7 912.5 281.4 913.9 279.2 C915.3 276.9 919.1 268.9 920 266 C920.8 263.2 922.2 253.9 922.5 250.9 C922.7 247.8 922.7 238.9 922.5 235.7 C922.2 232.5 920.8 222.1 920 218.5 C919.1 215 915.2 203.9 913.9 200.3 C912.6 196.8 908.2 186.2 906.8 183.1 C905.4 180.1 900.9 171.9 899.7 170 C898.6 168.1 897 166.1 895.7 164.4 C894.4 162.8 888.6 155.3 886.6 153.3 C884.6 151.3 877.8 145.4 875.5 144.2 C873.2 143 866.9 142.5 863.4 141.2 C859.8 139.9 845.3 133.1 840.1 131.1 C834.9 129.1 816.5 119.3 811 121 C805.4 122.7 789.3 145.4 784.7 148.3 Z" fill="#c9453f" stroke="#b83a36" stroke-width="0.9" stroke-linejoin="round" stroke-linecap="round"/>
<path d="M784.7 148.3 C780 151.1 767.1 148.7 764.5 149.3 C761.8 149.9 759.5 153 758.4 154.3 C757.3 155.6 754.2 160.8 753.4 162.4 C752.5 164 750.5 168.2 749.6 170 C748.8 171.8 745.5 177.6 744.8 180.1 C744 182.6 742.3 192 742.3 195.3 C742.3 198.5 744.1 209.1 744.9 212.5 C745.6 215.8 748.8 225.6 749.9 228.6 C751 231.6 754.9 240.5 756 242.6 C757 244.6 759.6 248.5 760.4 249 C761.3 249.6 762.9 247.8 764.5 248.3 C766.1 248.9 774 252.8 776.6 254.4 C779.2 256.1 787.8 263 790.8 264.8 C793.7 266.6 802 270.9 805.9 272.6 C809.8 274.3 825.6 280.1 830 281.7 C834.4 283.3 846.2 287.2 850.2 288.3 C854.3 289.4 866.8 292.3 870.4 292.8 C874.1 293.4 883.6 294.2 886.6 293.8 C889.6 293.5 898.5 290.5 900.8 289.3 C903 288 907.6 283 908.8 281.2 C910.1 279.4 912.4 273.6 912.9 271.1 C913.4 268.6 914.2 259.5 914.1 255.9 C914 252.4 912.7 239.7 912.1 235.7 C911.5 231.7 909 219.5 907.8 215.5 C906.7 211.4 902.1 198.8 900.8 195.3 C899.4 191.7 895.6 182.2 894.7 180.1 C893.8 178 892.5 175.1 891.7 174 C890.9 173 888.2 172.8 886.6 170 C885 167.2 877.8 149 875.5 146.2 C873.2 143.5 866.9 143.7 863.4 142.2 C859.8 140.7 845.3 133.2 840.1 131.1 C834.9 129 816.5 119.3 811 121 C805.4 122.7 789.3 145.4 784.7 148.3 Z" fill="#e5847c"/>
<path d="M894.7 180.1 C895.7 182.6 898.6 189.4 900.8 195.3 C902.9 201.2 905.9 208.7 907.8 215.5 C909.7 222.2 911 229 912.1 235.7 C913.1 242.4 914 250 914.1 255.9 C914.2 261.8 913.8 266.9 912.9 271.1 C912 275.3 910.9 278.2 908.8 281.2 C906.8 284.2 904.5 287.2 900.8 289.3 C897.1 291.4 889 293.1 886.6 293.8" fill="none" stroke="#d8635c" stroke-width="0.6" stroke-linejoin="round" stroke-linecap="round"/>
<path d="M763.5 145.2 C764.7 144.5 769 147.2 770.5 147.3 C772.1 147.4 777.4 146.8 778.6 146.2 C779.9 145.7 782.1 142.3 782.9 142 C783.6 141.7 785.5 142.3 785.9 143.2 C786.3 144.1 786.8 149.6 787.2 151.3 C787.6 153 789.1 158.9 789.7 160.4 C790.4 161.9 794.7 166.5 793.8 166.5 C792.9 166.4 783.2 160 780.6 159.6 C778.1 159.2 770.7 161.6 768.5 162.6 C766.3 163.6 760.2 167.9 758.4 169.5 C756.6 171.1 751.5 176.6 750.3 178.6 C749.1 180.6 747.1 189.1 746.5 189.2 C745.9 189.4 744 182 744.3 180.1 C744.5 178.2 748.4 171.8 749.3 170 C750.2 168.2 752.4 164 753.4 162.4 C754.3 160.8 757.4 156 758.4 154.3 C759.4 152.6 762.3 145.9 763.5 145.2 Z" fill="#bd5d74"/>
<path d="M863.4 141 C864.6 140.9 873.2 142.8 875.5 144 C877.8 145.2 884.6 151.1 886.6 153.1 C888.6 155.1 894.4 162.5 895.7 164.2 C897 165.9 899.1 168.8 899.7 170 C900.4 171.2 902.7 175.3 902.3 176.1 C901.8 176.8 896.2 178.2 895.2 177.6 C894.2 177 893 171.3 892.5 170 C891.9 168.7 890.6 165.9 889.6 164.4 C888.6 163 884.1 157.4 882.6 155.8 C881 154.3 876.4 150.2 874.5 149.1 C872.6 148 864.5 145.5 863.4 144.7 C862.2 143.9 862.1 141.1 863.4 141 Z" fill="#bd5d74"/>
<path d="M892.9 170.5 C893.3 169.7 898.6 169.4 899.5 170 C900.5 170.6 902.7 175.3 902.3 176.1 C901.8 176.8 896.1 178.1 895.2 177.6 C894.3 177 892.4 171.3 892.9 170.5 Z" fill="#a83a62"/>
<path d="M863.9 143 C865.7 143.6 871.5 144.8 875 146.7 C878.4 148.7 881.7 151.5 884.6 154.5 C887.5 157.6 890.9 162.2 892.5 164.9 C894 167.7 893.6 170 893.9 171" fill="none" stroke="#ea8a84" stroke-width="0.9" stroke-linejoin="round" stroke-linecap="round"/>
<path d="M791.3 161.9 C789.3 160.7 782.9 160.2 780.6 160.4 C778.4 160.5 770.7 162.5 768.5 163.4 C766.3 164.4 760.7 168.2 758.9 169.8 C757.1 171.4 751.7 177.1 750.5 179.1 C749.4 181.1 747.7 187.6 747.3 190.2 C746.9 192.8 746.4 202.3 746.8 205.4 C747.2 208.4 750.2 217.6 751.3 220.5 C752.5 223.5 757.3 232.8 758.4 234.7 C759.5 236.6 760.6 239.9 762.5 239.9 C764.3 240 774.2 236.5 776.6 235.2 C779 233.9 785 229.1 786.7 227.1 C788.4 225.1 792.5 217.9 793.8 215 C795.1 212 799.1 200.8 799.9 197.8 C800.6 194.8 801.4 187.7 801.4 185.2 C801.4 182.6 800.9 174.3 799.9 172 C798.8 169.7 793.2 163.1 791.3 161.9 Z" fill="#952426" stroke="#ea8a84" stroke-width="1.1" stroke-linejoin="round" stroke-linecap="round"/>
<path d="M758.4 181.1 C759.8 179.1 765.7 176.3 768.5 175.6 C771.3 174.8 779.6 173.9 782.7 174.5 C785.7 175.2 793 178.7 794.8 181.1 C796.6 183.5 798.6 191.5 798.3 195.3 C798.1 199 794.4 210 792.8 213.5 C791.2 216.9 787.1 222.5 784.7 224.6 C782.3 226.7 775 231.7 772.6 231.7 C770.1 231.7 765.2 227.2 763.5 224.6 C761.7 222 758.4 213.1 757.6 209.4 C756.8 205.8 756.3 196.6 756.4 193.2 C756.5 189.9 757 183.2 758.4 181.1 Z" fill="#a83234"/>
<path d="M762.5 214.5 C763.9 212.9 769.3 210.3 772.6 210.4 C775.8 210.6 784.6 213.6 786.7 215.5 C788.9 217.4 789.5 222.6 788.7 224.6 C787.9 226.6 783.5 229.8 780.6 230.6 C777.8 231.5 770 231.7 767.5 230.6 C765 229.6 762.6 224.7 761.9 222.6 C761.3 220.4 761 216.1 762.5 214.5 Z" fill="#8b1d20"/>
<ellipse cx="773.8" cy="219.3" rx="12.4" ry="7.4" fill="#7a1417" transform="rotate(14 773.8 219.3)"/>
<path d="M792.8 188.2 C794.4 186.8 798.9 184.9 799.9 186.2 C800.8 187.5 800.5 194.7 799.9 197.8 C799.2 200.9 796.7 208.5 795.3 209.4 C794 210.3 790.8 206.1 789.7 204.4 C788.7 202.6 787.3 198.4 787.7 196.3 C788.1 194.1 791.2 189.5 792.8 188.2 Z" fill="#952426"/>
<path d="M774.6 170 C776.9 169.3 784.4 170.2 784.7 171 C785 171.8 778.9 175.4 776.6 176.1 C774.3 176.7 767.8 176.9 767.5 176.1 C767.2 175.3 772.3 170.7 774.6 170 Z" fill="#952426"/>
<path d="M800.9 185.2 C800.2 188 801.9 197 802.1 200.3 C802.2 203.7 803.5 214.7 802.4 218.5 C801.2 222.4 794.2 236.3 790.8 238.7 C787.3 241.2 768.5 241.8 767.5 243 C766.5 244.1 777.7 248.2 780.6 250.1 C783.6 251.9 793.8 259.3 796.8 261.2 C799.9 263.1 807.7 267.5 811 269.3 C814.3 271 826.8 277.4 830 278.4 C833.2 279.4 840.6 279 843.1 279.2 C845.7 279.3 853.3 279.7 855.3 279.7 C857.2 279.6 861.6 279.7 862.3 278.7 C863.1 277.7 863.5 271.7 862.9 269.6 C862.2 267.4 858.4 259.6 856.3 256.9 C854.2 254.3 844.6 245.4 842.1 242.8 C839.7 240.2 833.6 233.2 832 230.6 C830.4 228.1 826.7 220.2 826 217.5 C825.2 214.8 824.4 206.3 824.9 203.4 C825.5 200.4 829.9 191.1 831 188.2 C832.1 185.3 835.4 176.3 836.1 174 C836.8 171.8 838.5 166.7 838.1 165.4 C837.7 164.2 834.1 161.6 832 161.4 C829.9 161.3 819.3 162.9 817 163.9 C814.7 165 810.6 169.9 809 172 C807.3 174.1 801.6 182.3 800.9 185.2 Z" fill="#952426"/>
<path d="M809 190.2 C809.8 187.5 815.4 184.6 817 185.2 C818.7 185.8 822.5 192.1 823.1 195.3 C823.7 198.5 821.6 208.8 822.1 212.5 C822.6 216.1 825.8 223.3 827.1 226.6 C828.5 229.9 832.1 237.6 834 240.8 C836 243.9 843.9 252.5 844.2 253.9 C844.4 255.3 838.4 254.9 836.1 252.9 C833.7 250.9 826.5 239.8 823.9 236.7 C821.4 233.6 815.6 229.9 814 226.6 C812.4 223.3 810.6 212.7 810 208.4 C809.4 204.2 808.1 192.9 809 190.2 Z" fill="#a83234"/>
<path d="M814 193.2 C814.8 191.5 818.6 189.3 819.6 190.2 C820.5 191.2 821.4 197.4 821.1 200.3 C820.7 203.3 818 212 817 212.5 C816 212.9 813.9 205.9 813.5 203.4 C813.1 200.8 813.2 195 814 193.2 Z" fill="#952426"/>
<path d="M816.5 217.5 C817.1 215.9 819.9 213.3 821.1 214.5 C822.2 215.7 825.1 223.9 825.1 226.6 C825.1 229.3 822.2 234.7 821.1 234.7 C820 234.7 817.6 228.9 817 226.6 C816.4 224.3 816 219.1 816.5 217.5 Z" fill="#952426"/>
<path d="M843.1 270.1 C843.5 269 846.5 267.6 847.7 267.5 C848.8 267.5 851.2 268.4 851.7 269.6 C852.3 270.7 852.6 275.3 851.7 276.1 C850.9 276.9 846.3 276.4 845.2 275.6 C844 274.8 842.8 271.1 843.1 270.1 Z" fill="#a83234"/>
<path d="M854.8 268.6 C855.3 267.3 859.3 267.2 860.3 267.5 C861.4 267.9 862.3 269.7 862.5 271.1 C862.8 272.4 863 276.8 862.1 277.7 C861.3 278.5 857.5 278.4 856.5 277.1 C855.5 275.9 854.3 269.8 854.8 268.6 Z" fill="#a83234"/>
<path d="M832 265 C832.8 264.1 836 263.3 837.1 264 C838.2 264.7 840.2 268.9 840.1 270.1 C840 271.3 837.3 273 836.1 273.1 C834.9 273.2 831.5 272.2 831 271.1 C830.5 270 831.2 266 832 265 Z" fill="#a83234"/>
<path d="M762.5 239.9 C762.5 239.3 774.2 236.5 776.6 235.2 C779 233.9 785 229.1 786.7 227.1 C788.4 225.1 792.5 217.9 793.8 215 C795.1 212 799.1 199.8 799.9 197.8 C800.6 195.8 801.5 194 801.7 195.3 C801.8 196.5 801.2 207.3 801.5 210.4 C801.7 213.6 803.1 224.1 803.9 226.6 C804.6 229.1 809 234.3 809 235.7 C809 237.1 805 239.8 803.9 240.8 C802.8 241.7 799.1 244.6 797.8 245.3 C796.5 246 792.1 248 790.8 248 C789.4 248 786.1 245.9 784.7 245.3 C783.3 244.7 778.8 242.5 776.6 242 C774.4 241.4 762.5 240.6 762.5 239.9 Z" fill="#f3c9c1"/>
<path d="M784.7 235.7 C785.2 233.8 791.2 228.4 792.8 226.6 C794.4 224.9 796 222.2 796.8 222.6 C797.6 223 799.1 227.5 798.8 229.6 C798.6 231.8 796.1 237.3 794.8 238.7 C793.5 240.2 790.1 241.2 788.7 240.8 C787.4 240.4 784.2 237.6 784.7 235.7 Z" fill="#fbe8e3"/>
<line x1="790.8" y1="248" x2="802.9" y2="261" stroke="#f3c9c1" stroke-width="0.9"/>
<line x1="797.8" y1="245.3" x2="809" y2="257.9" stroke="#f3c9c1" stroke-width="0.9"/>
<line x1="803.9" y1="240.8" x2="816" y2="255.9" stroke="#f3c9c1" stroke-width="0.9"/>
<line x1="809" y1="235.7" x2="817" y2="250.9" stroke="#f3c9c1" stroke-width="0.9"/>
<line x1="776.6" y1="242" x2="812" y2="264.5" stroke="#f3c9c1" stroke-width="0.9"/>
<line x1="784.7" y1="245.3" x2="806.9" y2="261" stroke="#f3c9c1" stroke-width="0.9"/>
<path d="M796.8 249.9 C796 248.4 799.5 246.9 800.9 247.8 C802.3 248.7 810.2 257.5 811 259 C811.8 260.4 810.4 262.9 809 262 C807.5 261.1 797.6 251.3 796.8 249.9 Z" fill="#bb4a48"/>
<path d="M804.9 239.7 C804.4 238.3 807.7 237.6 809 238.7 C810.2 239.8 816.5 249.5 817 250.9 C817.5 252.3 815.2 254 814 252.9 C812.8 251.8 805.4 241.2 804.9 239.7 Z" fill="#bb4a48"/>
<path d="M845.2 161.4 C846.5 159.7 848.4 151.4 850.2 149.8 C852 148.1 860.9 144.8 863.4 144.7 C865.8 144.6 872.6 147.7 874.5 148.8 C876.4 149.9 881 154.3 882.6 155.8 C884.1 157.4 888.6 163.2 889.6 164.6 C890.6 166.1 892.8 168.7 892.5 170 C892.2 171.3 888 176.2 886.6 177.3 C885.2 178.3 880.6 179.7 878.5 180.3 C876.4 180.9 867.9 183.1 865.4 183.3 C862.9 183.5 855.8 183.3 853.2 182.3 C850.7 181.3 841.7 174.8 840.1 173.2 C838.5 171.7 836.6 168.2 837.1 167 C837.6 165.8 843.8 163.1 845.2 161.4 Z" fill="#a83234"/>
<circle cx="870.6" cy="160.6" r="4.6" fill="#952426"/>
<circle cx="871.2" cy="161" r="2.6" fill="#a83234"/>
<circle cx="872.2" cy="161.8" r="1.3" fill="#952426"/>
<path d="M851.7 151.3 C853.8 148.5 859.7 147.7 860.3 148.8 C860.9 149.8 857 156.6 856.3 159.4 C855.6 162.2 854.7 167.8 855.3 170 C855.8 172.2 860.6 175.3 860.3 176.1 C860.1 176.9 855.3 176.9 853.2 176.1 C851.2 175.3 845.4 173.3 845.2 170 C845 166.7 849.7 154.1 851.7 151.3 Z" fill="#952426"/>
<path d="M840.1 173.2 C842.1 173.7 850.7 181.3 853.2 182.3 C855.8 183.3 862.9 183.5 865.4 183.3 C867.9 183.1 876.4 180.9 878.5 180.3 C880.6 179.7 885.8 176.3 886.6 177.3 C887.4 178.3 885.8 186.9 886.1 190.2 C886.4 193.5 889 206.4 889.6 210.4 C890.3 214.5 892.1 226.3 892.7 230.6 C893.3 235 895.4 250.9 895.7 253.9 C896 256.9 896.4 259.6 895.7 261 C895 262.3 891 267.2 889.1 267.2 C887.3 267.2 879.9 262.8 877.5 261 C875.1 259.1 867.4 251 865.4 248.8 C863.4 246.7 859.3 242.1 857.3 239.7 C855.3 237.4 847.3 229 845.2 225.6 C843 222.2 837.4 208.9 836.1 205.4 C834.8 201.8 832.3 192.9 832 190.2 C831.7 187.5 832.2 179.8 833 178.1 C833.8 176.4 838.1 172.8 840.1 173.2 Z" fill="#952426"/>
<path d="M838.1 185.2 C838.9 184 843.5 187.9 845.2 190.2 C846.8 192.6 850.5 201.1 852.2 205.4 C854 209.6 858.2 222 860.3 226.6 C862.4 231.2 867.8 241 870.4 244.8 C873 248.6 881.7 257.3 882.6 259 C883.4 260.6 879.4 260.2 877.5 259 C875.6 257.7 869 250.7 866.4 247.8 C863.8 245 857.7 238.1 855.3 234.7 C852.8 231.3 847.2 222.5 845.2 218.5 C843.2 214.5 838.9 204.2 838.1 200.3 C837.3 196.4 837.3 186.3 838.1 185.2 Z" fill="#a83234"/>
<path d="M867.4 200.3 C868.3 199 872.7 201.2 874.5 203.4 C876.2 205.5 880.8 214.2 882.6 218.5 C884.3 222.9 888.2 236 889.6 240.8 C891.1 245.5 894.7 256.2 894.7 259 C894.7 261.7 891.1 264.9 889.6 264 C888.2 263.1 884.4 254.5 882.6 250.9 C880.7 247.2 875.4 236.9 873.5 232.7 C871.6 228.4 867.1 218.2 866.4 214.5 C865.7 210.7 866.5 201.6 867.4 200.3 Z" fill="#a83234"/>
<path d="M863.4 229.6 C863.6 228.6 865.9 229.2 867.4 231.7 C868.9 234.1 874.3 247.4 876.5 250.9 C878.7 254.3 885.7 259.4 886.6 261 C887.5 262.5 886.1 264.8 884.6 264 C883.1 263.2 875.7 256.6 873.5 253.9 C871.2 251.2 866.6 243.6 865.4 240.8 C864.2 237.9 863.1 230.7 863.4 229.6 Z" fill="#bb4a48"/>
<path d="M882.6 226.6 C882.7 224.7 886.3 227.8 887.6 230.6 C888.9 233.5 893.2 247.8 893.7 250.9 C894.2 253.9 892.5 257.4 891.7 256.9 C890.8 256.5 887.7 250.4 886.6 246.8 C885.5 243.3 882.4 228.5 882.6 226.6 Z" fill="#bb4a48"/>
<path d="M840.1 173.2 C840.6 173.3 851.1 181.5 853.2 182.3 C855.4 183.2 863.3 183.5 865.4 183.3 C867.5 183.2 876.8 180.8 878.5 180.3 C880.3 179.8 886.5 176.7 886.6 177.3 C886.7 177.9 880.9 185.3 880 187.2 C879.2 189.1 877.3 199.6 876.7 200.3 C876.1 201.1 873.2 196.4 872.5 196.3 C871.7 196.2 868.2 198 867.6 199.3 C867 200.7 865 210.2 864.9 212.5 C864.7 214.7 865.9 226.8 865.6 226.6 C865.2 226.4 861.6 213 860.8 210.4 C860 207.8 856.9 197.7 855.8 195.3 C854.7 192.8 849 183.2 847.7 181.3 C846.4 179.5 839.6 173.2 840.1 173.2 Z" fill="#f3c9c1"/>
<path d="M863.4 185.2 C864.4 182.6 871 182.8 872.5 184.2 C873.9 185.5 875 193.5 874.5 195.3 C873.9 197 869.7 196.2 868.4 197.3 C867.1 198.4 865.5 205 864.9 203.4 C864.2 201.7 862.3 187.7 863.4 185.2 Z" fill="#fbe8e3"/>
<line x1="876.7" y1="200.3" x2="884.6" y2="225.1" stroke="#f3c9c1" stroke-width="0.9"/>
<line x1="874.5" y1="198.3" x2="882.6" y2="223.6" stroke="#f3c9c1" stroke-width="0.9"/>
<line x1="872.5" y1="196.3" x2="880.5" y2="220.5" stroke="#f3c9c1" stroke-width="0.9"/>
<line x1="860.3" y1="209.4" x2="863.4" y2="222.6" stroke="#f3c9c1" stroke-width="0.9"/>
<path d="M805.3 185.3 C804.6 185.1 800.7 175.3 799.3 172.7 C797.8 170 792.6 161.2 791.2 158.5 C789.8 155.8 785.8 147.7 785.1 145.4 C784.4 143.1 783.6 137.6 784.1 135.3 C784.6 132.9 788.5 124 790.2 122.1 C791.8 120.2 798.1 116.7 800.3 116.3 C802.4 115.9 809.5 117.1 811.4 118.1 C813.3 119.1 818.4 124.4 819.5 126.2 C820.6 128 822 134.5 822.3 136.3 C822.6 138.1 823 143 822.5 144.4 C822 145.8 818.7 148.6 817.5 150.4 C816.2 152.3 811.5 160.1 810.4 162.6 C809.3 165 806.8 172.4 806.3 174.7 C805.8 177 806 185.5 805.3 185.3 Z" fill="#952426" stroke="#ea8a84" stroke-width="1.2" stroke-linejoin="round" stroke-linecap="round"/>
<path d="M800.8 120.1 C802.1 118.5 811.2 120.1 813.4 121.3 C815.6 122.5 818.6 127.6 819.5 130.2 C820.4 132.8 821.5 140.8 821 143.4 C820.5 146 816.7 150.3 815.4 152.5 C814.2 154.6 811.6 161.6 810.4 161.6 C809.2 161.6 806.3 155.5 805.3 152.5 C804.4 149.4 802.8 139 802.3 135.3 C801.8 131.5 799.5 121.7 800.8 120.1 Z" fill="#a83234"/>
<path d="M823.9 121.5 C824.7 120.6 830.5 119.5 832 119.5 C833.5 119.5 840.6 121.3 842.1 121.5 C843.6 121.7 848.4 122.7 850.2 122 C852.1 121.3 861.7 114.3 864.4 112.9 C867.1 111.5 879.2 106.2 882.6 105 C886 103.8 903.2 98.9 905.3 98.7 C907.4 98.6 907.9 102.3 908 103 C908.1 103.7 907.8 106.2 906.6 107 C905.4 107.9 895.3 112.5 893.7 113.1 C892.1 113.7 887 113.9 887.1 114.1 C887.2 114.3 892.9 115.4 894.7 115.7 C896.4 116.1 906.8 117.7 908 118.1 C909.2 118.6 909.2 120.6 909 121.5 C908.9 122.3 907.3 128 905.8 128.3 C904.3 128.5 893.2 124.3 890.6 124.2 C888.1 124.1 877.7 126.1 875.5 127.2 C873.3 128.3 866.1 135.6 864.4 137.3 C862.7 139.1 856.7 146.5 855.3 148.5 C853.8 150.4 848 158.9 847.2 160.4 C846.3 161.9 846.1 165.8 845.2 167 C844.2 168.1 837.5 175.5 836.1 174 C834.6 172.6 829.2 152.1 828 149.3 C826.8 146.5 822.3 141.8 821.9 140.2 C821.5 138.5 822.8 131.1 822.9 129.6 C823.1 128 823.2 122.3 823.9 121.5 Z" fill="#418ac9"/>
<path d="M905.8 128.3 C904.3 128.2 893.7 124.3 890.6 124.2 C887.6 124.1 878.1 125.9 875.5 127.2 C872.9 128.6 866.4 135.2 864.4 137.3 C862.3 139.5 857 146.2 855.3 148.5 C853.6 150.8 848.2 158.5 847.2 160.4 C846.2 162.2 845.5 167.4 845.2 167 C844.9 166.6 843.3 159 844.2 156.4 C845 153.7 851.2 142.8 853.2 140.2 C855.3 137.6 862.1 131.7 864.4 130.1 C866.6 128.4 872.9 124.4 875.5 123.5 C878.1 122.6 887.7 120.8 890.6 121 C893.6 121.1 903.8 124.3 905.3 125 C906.8 125.7 907.3 128.3 905.8 128.3 Z" fill="#2671b0"/>
<path d="M886.6 114.1 C886.6 113.9 892.7 113.1 894.7 112.4 C896.7 111.7 905.6 107.3 906.6 107 C907.6 106.8 906 109.1 904.8 109.9 C903.6 110.6 896.5 114 894.7 114.4 C892.9 114.8 886.6 114.3 886.6 114.1 Z" fill="#2671b0"/>
<path d="M822.4 131.1 C822.5 132.8 826.6 147.8 828 149.3 C829.3 150.8 835.7 147.5 836.1 146.2 C836.5 145 832.9 138.6 832 137.1 C831.1 135.7 827.9 132.7 827 132.1 C826 131.5 822.3 129.4 822.4 131.1 Z" fill="#2671b0"/>
<path d="M841.3 135.6 C842.6 134.5 846.3 130.6 849.2 128.6 C852.1 126.5 857.2 124.3 858.8 123.5" fill="none" stroke="#86c4ea" stroke-width="1.4" stroke-linejoin="round" stroke-linecap="round"/>
<path d="M799.3 199 C797.9 197.2 801 191.7 801.5 189.9 C802 188 803.4 183.5 804.3 180.8 C805.2 178 809.1 165.6 810.4 162.6 C811.7 159.5 815.5 152.2 817.5 150.4 C819.4 148.7 827.2 144.9 829.6 144.9 C832 144.9 840.2 149.1 841.7 150.4 C843.2 151.8 844.7 156.3 844.7 158.5 C844.7 160.7 842.6 169.8 841.7 172.7 C840.8 175.5 836.9 184 835.6 186.8 C834.4 189.7 831.6 199 829.6 201 C827.6 203 818.5 207.2 815.4 207 C812.4 206.8 800.7 200.7 799.3 199 Z" fill="#a83234"/>
<path d="M825.5 146.4 C826.3 144.7 829.7 144.3 830.1 145.4 C830.4 146.5 829.5 154.8 829.1 157.5 C828.6 160.2 826.5 169.3 825.5 172.7 C824.6 176 820.7 188 819.5 190.9 C818.3 193.7 814.5 200.2 813.4 201 C812.3 201.8 808.2 201 808.4 199 C808.6 196.9 814 184.4 815.4 180.8 C816.8 177.1 821.5 166 822.5 162.6 C823.5 159.1 824.8 148.1 825.5 146.4 Z" fill="#952426"/>
<path d="M799.3 199 C799.5 198 801 191.7 801.5 189.9 C802 188 803.4 183.5 804.3 180.8 C805.2 178 809.1 165.6 810.4 162.6 C811.7 159.5 815.5 152.2 817.5 150.4 C819.4 148.7 827.2 144.9 829.6 144.9 C832 144.9 840.2 149.1 841.7 150.4 C843.2 151.8 844.7 156.3 844.7 158.5 C844.7 160.7 842.6 169.8 841.7 172.7 C840.8 175.5 836.9 184 835.6 186.8 C834.4 189.7 830.2 199.6 829.6 201" fill="none" stroke="#ea8a84" stroke-width="1.3" stroke-linejoin="round" stroke-linecap="round"/>
<circle cx="804" cy="165.2" r="4.1" fill="#8b1d20"/>
<path d="M799.2 165.8 a4.9 4.9 0 1 0 9.7 0" fill="none" stroke="#f2b2ac" stroke-width="2.6" transform="rotate(25 804 165.8)"/>
<circle cx="817.5" cy="165.5" r="4.8" fill="#8b1d20"/>
<path d="M811.8 166.1 a5.7 5.7 0 1 0 11.3 0" fill="none" stroke="#f2b2ac" stroke-width="2.6" transform="rotate(0 817.5 166.1)"/>
<circle cx="832.8" cy="170.4" r="5" fill="#8b1d20"/>
<path d="M827 171 a5.9 5.9 0 1 0 11.7 0" fill="none" stroke="#f2b2ac" stroke-width="2.6" transform="rotate(-8 832.8 171)"/>
</g>
<g id="diagram">
<path d="M500.3 295 L554.5 277 L581.3 306.7 L574.7 309.7 L605.1 335.8 L596 339 L637.5 382.5 L564.3 350.8 L577.4 345.6 L532.3 324.7 L547 318.8 Z" fill="#ee5a5a"/>
<text x="607.5" y="180" font-size="27.1" font-weight="bold" fill="#000" text-anchor="middle">Normal</text>
<text x="607.5" y="212.5" font-size="27.1" font-weight="bold" fill="#000" text-anchor="middle">heart</text>
<text x="738.2" y="375.2" font-size="27.2" font-weight="bold" fill="#ee0808" text-anchor="middle">Pathological</text>
<text x="737.6" y="408.2" font-size="26.9" font-weight="bold" fill="#ee0808" text-anchor="middle">stimuli</text>
<circle cx="834.7" cy="494.3" r="63.2" fill="none" stroke="#5b9bd5" stroke-width="2.7"/>
<text x="781" y="596.3" font-size="27.2" font-weight="bold" fill="#000">circCDYL</text>
<path d="M943.5 548.5 L964.8 585 L954.5 585 L954.5 606 L932.5 606 L932.5 585 L922.2 585 Z" fill="#ff0000"/>
<ellipse cx="652.2" cy="470" rx="56.2" ry="36" fill="#4f81bd"/>
<text x="652.5" y="476" font-size="24.4" font-weight="bold" fill="#fff" text-anchor="middle">METTL3</text>
<line x1="712" y1="523.5" x2="595.5" y2="523.5" stroke="#000" stroke-width="4.2"/>
<path d="M583.5 523.5 L596.5 517.2 L596.5 529.8 Z" fill="#000"/>
<circle cx="452.9" cy="496.4" r="62.7" fill="none" stroke="#5b9bd5" stroke-width="2.7"/>
<ellipse cx="453.4" cy="389" rx="56.3" ry="35.4" fill="#00b0f0"/>
<text x="448.9" y="393.5" font-size="21.5" font-weight="bold" fill="#fff" text-anchor="middle">YTHDF3</text>
<path d="M448.2 433 L448.2 421.8 A15 10.3 0 1 1 460.4 421.8 L460.4 433 Z" fill="#ff0000" stroke="#fde9a8" stroke-width="1.6"/>
<rect x="448.2" y="424" width="12.2" height="9" fill="#ff0000"/>
<g fill="#facba2" stroke="#3f5880" stroke-width="2.5">
<ellipse cx="414.4" cy="431.4" rx="13.6" ry="10.6" transform="rotate(-45 414.4 431.4)"/>
<circle cx="422" cy="441.4" r="6.6"/>
</g>
<g fill="#facba2" stroke="#3f5880" stroke-width="2.5">
<ellipse cx="389.7" cy="449.8" rx="13.4" ry="10.8" transform="rotate(-50 389.7 449.8)"/>
<circle cx="399.3" cy="458.2" r="6.4"/>
</g>
<g fill="#facba2" stroke="#3f5880" stroke-width="2.5">
<ellipse cx="386" cy="483" rx="13.6" ry="10.8" transform="rotate(-50 386 483)"/>
<circle cx="396" cy="490.3" r="6.6"/>
</g>
<text x="452.5" y="471.8" font-size="27.5" font-weight="bold" fill="#ee0808" text-anchor="middle">m6A</text>
<text x="366.5" y="596" font-size="24.4" font-weight="bold" fill="#000">N6-methylation</text>
<path d="M596 558.5 L617.2 595 L606.8 595 L606.8 616.5 L585.2 616.5 L585.2 595 L574.8 595 Z" fill="#ff0000"/>
<text x="35.7" y="440.6" font-size="24.5" font-weight="bold" fill="#000" textLength="278" lengthAdjust="spacingAndGlyphs">Translation of circCDYL</text>
<path d="M349.3 402.4 L370.3 439 L360.3 439 L360.3 460.2 L338.3 460.2 L338.3 439 L328.3 439 Z" fill="#ff0000"/>
<line x1="348.5" y1="499.4" x2="287.5" y2="499.4" stroke="#000" stroke-width="4.2"/>
<path d="M275.5 499.4 L288.5 493.1 L288.5 505.6 Z" fill="#000"/>
<rect x="154.9" y="471" width="102.6" height="48" rx="5.5" fill="#569df4"/>
<text x="204.8" y="503.7" font-size="21.4" font-weight="bold" fill="#fff" text-anchor="middle">tCDYL</text>
<line x1="213" y1="545.2" x2="213" y2="593.8" stroke="#000" stroke-width="4.2"/>
<path d="M213 605.8 L206.8 592.8 L219.2 592.8 Z" fill="#000"/>
<rect x="159.2" y="630.2" width="99.5" height="48" rx="5.5" fill="#569df4"/>
<text x="208.6" y="662.4" font-size="21.4" font-weight="bold" fill="#fff" text-anchor="middle">tCDYL</text>
<ellipse cx="298.8" cy="651.4" rx="56.4" ry="35.4" fill="#8fba62"/>
<text x="298.5" y="658.5" font-size="21.4" font-weight="bold" fill="#fff" text-anchor="middle">REST</text>
<rect x="212.3" y="707.4" width="3.6" height="91" fill="#000"/>
<rect x="177.9" y="796" width="73.4" height="4" fill="#000"/>
<rect x="94" y="754" width="863" height="263" rx="39" ry="39" fill="none" stroke="#172b45" stroke-width="2.7" stroke-dasharray="12.8 6.9"/>
<rect x="159" y="966.8" width="692.5" height="4" fill="#000"/>
<rect x="161.3" y="867.1" width="141.7" height="61" rx="9" fill="#ffc000"/>
<text x="232" y="907.1" font-size="24.4" font-weight="bold" fill="#fff" text-anchor="middle">CDYL</text>
<ellipse cx="309.2" cy="858.1" rx="55.9" ry="35.1" fill="#a989ac"/>
<text x="309.6" y="867.3" font-size="24.4" font-weight="bold" fill="#fff" text-anchor="middle">EHMT2</text>
<ellipse cx="259.9" cy="946.5" rx="55.9" ry="35.3" fill="#8fba62"/>
<text x="259.8" y="955" font-size="21.4" font-weight="bold" fill="#fff" text-anchor="middle">REST</text>
<path d="M368.7 854.4 L393.1 854.4 L393.1 846.6 L408.3 861.4 L393.1 876.2 L393.1 869 L368.7 869 L376.3 861.7 Z" fill="#000"/>
<line x1="435.6" y1="880.7" x2="435.6" y2="905" stroke="#13243c" stroke-width="2"/>
<g stroke="#13243c" stroke-width="2.4" stroke-linejoin="round" fill="#4f81bd">
<path d="M453.8 913 L455.7 914 L457.4 915.5 L458.9 917.5 L460 920 L460.9 922.8 L461.4 926.1 L461.7 929.6 L461.6 933.4 L461.1 937.3 L460.4 941.4 L459.3 945.5 L458 949.6 L456.4 953.6 L454.6 957.5 L452.5 961.1 L450.3 964.4 L447.9 967.4 L445.5 969.9 L443 972 L440.5 973.7 L438 974.8 L435.6 975.4 L433.3 975.5 L431.2 975 L429.3 974 L427.6 972.5 L426.1 970.5 L425 968 L424.1 965.2 L423.6 961.9 L423.3 958.4 L423.4 954.6 L423.9 950.7 L424.6 946.6 L425.7 942.5 L427 938.4 L428.6 934.4 L430.4 930.5 L432.5 926.9 L434.7 923.6 L437.1 920.6 L439.5 918.1 L442 916 L444.5 914.3 L447 913.2 L449.4 912.6 L451.7 912.5 Z"/>
<path d="M439.2 905.4 L454.7 913.4 L430.3 974.6 L414.8 966.6 Z" stroke="none"/>
<line x1="439.2" y1="905.4" x2="454.7" y2="913.4"/>
<line x1="414.8" y1="966.6" x2="430.3" y2="974.6"/>
<path d="M438.3 905 L440.2 906 L441.9 907.5 L443.4 909.5 L444.5 912 L445.4 914.8 L445.9 918.1 L446.2 921.6 L446.1 925.4 L445.6 929.3 L444.9 933.4 L443.8 937.5 L442.5 941.6 L440.9 945.6 L439.1 949.5 L437 953.1 L434.8 956.4 L432.4 959.4 L430 961.9 L427.5 964 L425 965.7 L422.5 966.8 L420.1 967.4 L417.8 967.5 L415.7 967 L413.8 966 L412.1 964.5 L410.6 962.5 L409.5 960 L408.6 957.2 L408.1 953.9 L407.8 950.4 L407.9 946.6 L408.4 942.7 L409.1 938.6 L410.2 934.5 L411.5 930.4 L413.1 926.4 L414.9 922.5 L417 918.9 L419.2 915.6 L421.6 912.6 L424 910.1 L426.5 908 L429 906.3 L431.5 905.2 L433.9 904.6 L436.2 904.5 Z"/>
</g>
<circle cx="435.6" cy="860.7" r="20.9" fill="#00b050" stroke="#0f3550" stroke-width="2.5"/>
<text x="436" y="867.2" font-size="16" fill="#fff" text-anchor="middle">Me2</text>
<line x1="492.8" y1="880.7" x2="492.8" y2="905" stroke="#13243c" stroke-width="2"/>
<g stroke="#13243c" stroke-width="2.4" stroke-linejoin="round" fill="#4f81bd">
<path d="M511 913 L512.9 914 L514.6 915.5 L516.1 917.5 L517.2 920 L518.1 922.8 L518.6 926.1 L518.9 929.6 L518.8 933.4 L518.3 937.3 L517.6 941.4 L516.5 945.5 L515.2 949.6 L513.6 953.6 L511.8 957.5 L509.7 961.1 L507.5 964.4 L505.1 967.4 L502.7 969.9 L500.2 972 L497.7 973.7 L495.2 974.8 L492.8 975.4 L490.5 975.5 L488.4 975 L486.5 974 L484.8 972.5 L483.3 970.5 L482.2 968 L481.3 965.2 L480.8 961.9 L480.5 958.4 L480.6 954.6 L481.1 950.7 L481.8 946.6 L482.9 942.5 L484.2 938.4 L485.8 934.4 L487.6 930.5 L489.7 926.9 L491.9 923.6 L494.3 920.6 L496.7 918.1 L499.2 916 L501.7 914.3 L504.2 913.2 L506.6 912.6 L508.9 912.5 Z"/>
<path d="M496.4 905.4 L511.9 913.4 L487.5 974.6 L472 966.6 Z" stroke="none"/>
<line x1="496.4" y1="905.4" x2="511.9" y2="913.4"/>
<line x1="472" y1="966.6" x2="487.5" y2="974.6"/>
<path d="M495.5 905 L497.4 906 L499.1 907.5 L500.6 909.5 L501.7 912 L502.6 914.8 L503.1 918.1 L503.4 921.6 L503.3 925.4 L502.8 929.3 L502.1 933.4 L501 937.5 L499.7 941.6 L498.1 945.6 L496.3 949.5 L494.2 953.1 L492 956.4 L489.6 959.4 L487.2 961.9 L484.7 964 L482.2 965.7 L479.7 966.8 L477.3 967.4 L475 967.5 L472.9 967 L471 966 L469.3 964.5 L467.8 962.5 L466.7 960 L465.8 957.2 L465.3 953.9 L465 950.4 L465.1 946.6 L465.6 942.7 L466.3 938.6 L467.4 934.5 L468.7 930.4 L470.3 926.4 L472.1 922.5 L474.2 918.9 L476.4 915.6 L478.8 912.6 L481.2 910.1 L483.7 908 L486.2 906.3 L488.7 905.2 L491.1 904.6 L493.4 904.5 Z"/>
</g>
<circle cx="492.8" cy="860.7" r="20.9" fill="#00b050" stroke="#0f3550" stroke-width="2.5"/>
<text x="493.2" y="867.2" font-size="16" fill="#fff" text-anchor="middle">Me2</text>
<line x1="555.6" y1="881.4" x2="555.6" y2="906.2" stroke="#13243c" stroke-width="2"/>
<g stroke="#13243c" stroke-width="2.4" stroke-linejoin="round" fill="#4f81bd">
<path d="M573.8 914.2 L575.7 915.2 L577.4 916.7 L578.9 918.7 L580 921.2 L580.9 924 L581.4 927.3 L581.7 930.8 L581.6 934.6 L581.1 938.5 L580.4 942.6 L579.3 946.7 L578 950.8 L576.4 954.8 L574.6 958.7 L572.5 962.3 L570.3 965.6 L567.9 968.6 L565.5 971.1 L563 973.2 L560.5 974.9 L558 976 L555.6 976.6 L553.3 976.7 L551.2 976.2 L549.3 975.2 L547.6 973.7 L546.1 971.7 L545 969.2 L544.1 966.4 L543.6 963.1 L543.3 959.6 L543.4 955.8 L543.9 951.9 L544.6 947.8 L545.7 943.7 L547 939.6 L548.6 935.6 L550.4 931.7 L552.5 928.1 L554.7 924.8 L557.1 921.8 L559.5 919.3 L562 917.2 L564.5 915.5 L567 914.4 L569.4 913.8 L571.7 913.7 Z"/>
<path d="M559.2 906.6 L574.7 914.6 L550.3 975.8 L534.8 967.8 Z" stroke="none"/>
<line x1="559.2" y1="906.6" x2="574.7" y2="914.6"/>
<line x1="534.8" y1="967.8" x2="550.3" y2="975.8"/>
<path d="M558.3 906.2 L560.2 907.2 L561.9 908.7 L563.4 910.7 L564.5 913.2 L565.4 916 L565.9 919.3 L566.2 922.8 L566.1 926.6 L565.6 930.5 L564.9 934.6 L563.8 938.7 L562.5 942.8 L560.9 946.8 L559.1 950.7 L557 954.3 L554.8 957.6 L552.4 960.6 L550 963.1 L547.5 965.2 L545 966.9 L542.5 968 L540.1 968.6 L537.8 968.7 L535.7 968.2 L533.8 967.2 L532.1 965.7 L530.6 963.7 L529.5 961.2 L528.6 958.4 L528.1 955.1 L527.8 951.6 L527.9 947.8 L528.4 943.9 L529.1 939.8 L530.2 935.7 L531.5 931.6 L533.1 927.6 L534.9 923.7 L537 920.1 L539.2 916.8 L541.6 913.8 L544 911.3 L546.5 909.2 L549 907.5 L551.5 906.4 L553.9 905.8 L556.2 905.7 Z"/>
</g>
<circle cx="555.6" cy="861.4" r="20.9" fill="#00b050" stroke="#0f3550" stroke-width="2.5"/>
<text x="556" y="867.9" font-size="16" fill="#fff" text-anchor="middle">Me2</text>
<path d="M633.6 967 L633.6 901.5 L724.5 901.5" fill="none" stroke="#ff0000" stroke-width="3.6"/>
<path d="M736.2 901.5 L723.3 895.6 L723.3 907.4 Z" fill="#ff0000"/>
<text x="623.5" y="860.6" font-size="24.5" font-weight="bold" fill="#000" textLength="234.5" lengthAdjust="spacingAndGlyphs">Histone methylation</text>
<text x="676.8" y="951.1" font-size="24.4" font-weight="bold" fill="#000">Transcription</text>
<path d="M885.2 823 L906.4 823 L906.4 847.6 L917.5 847.6 L895.7 880.9 L873.8 847.6 L885.2 847.6 Z" fill="#0cd50c"/>
<path d="M893.4 909.6 L914.6 945.6 L904 945.6 L904 967.8 L882.8 967.8 L882.8 945.6 L872.1 945.6 Z" fill="#ff0000"/>
<text x="380" y="1007.8" font-size="24.6" fill="#000" textLength="341" lengthAdjust="spacingAndGlyphs">The promoter of <tspan font-style="italic">rhoa and nppb</tspan></text>
<path d="M523 1037.8 L579 1037.8 L579 1089 L606 1089 L551.1 1138.9 L496 1089 L523 1089 Z" fill="#000"/>
<text x="572.5" y="1227.9" font-size="27.4" font-weight="bold" fill="#ee0808" text-anchor="middle">Cardiac</text>
<text x="572.3" y="1260.8" font-size="27.4" font-weight="bold" fill="#ee0808" text-anchor="middle">hypertrophy</text>
</g>
</svg>
</body></html>
